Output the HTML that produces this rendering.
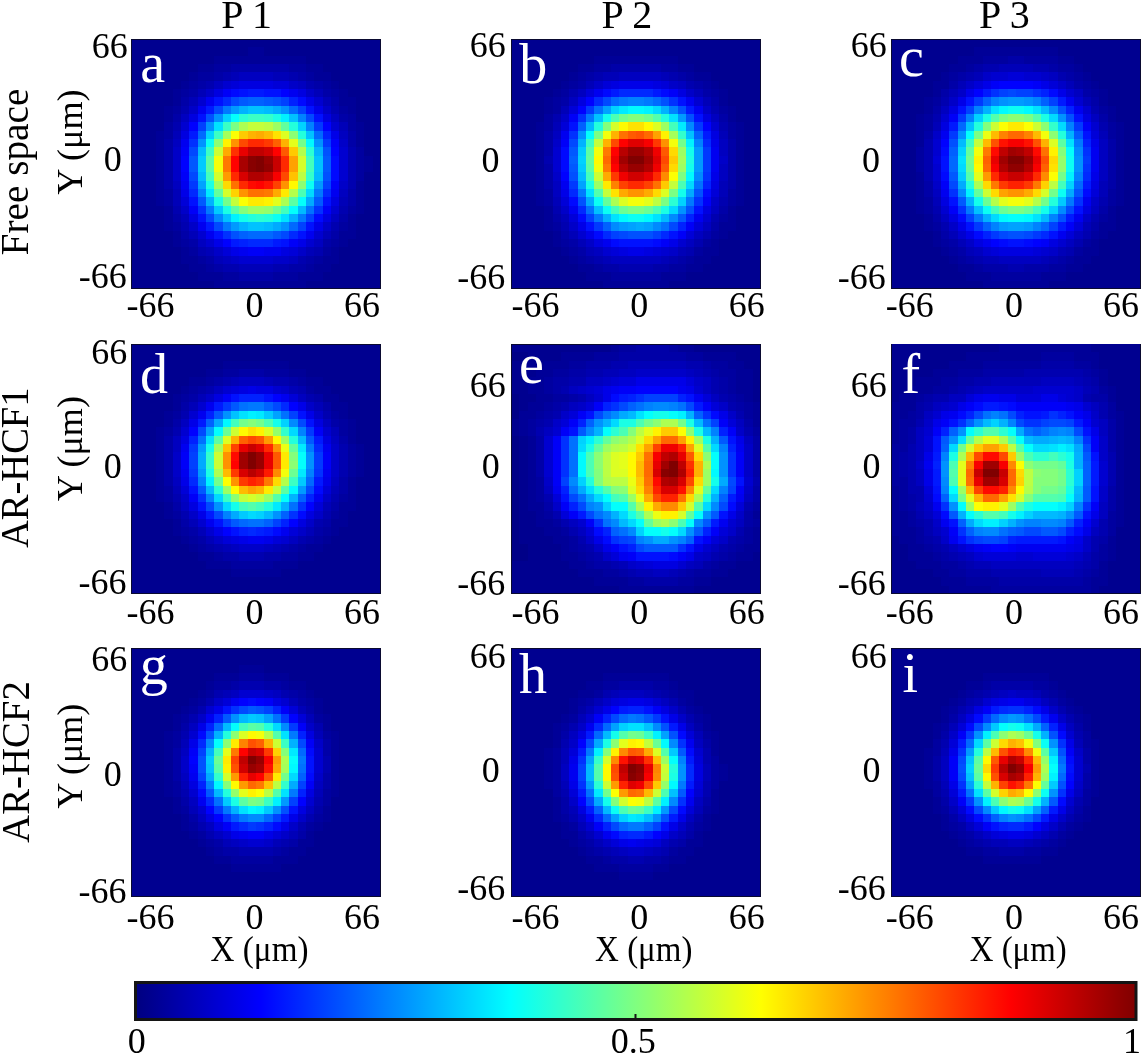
<!DOCTYPE html>
<html><head><meta charset="utf-8"><title>Beam profiles</title>
<style>html,body{margin:0;padding:0;background:#fff;width:1143px;height:1055px;overflow:hidden}svg{display:block}text{font-family:"Liberation Serif","Times New Roman",serif}</style>
</head><body>
<svg width="1143" height="1055" viewBox="0 0 1143 1055">
<rect width="1143" height="1055" fill="#fff"/>
<g transform="translate(131 39) scale(8.33333 8.33333)" shape-rendering="crispEdges"><path fill="#000090" d="M0 0h30v1h-30zM0 1h14v1h-14zM16 1h14v1h-14zM0 2h10v1h-10zM21 2h9v1h-9zM0 3h8v1h-8zM23 3h7v1h-7zM0 4h7v1h-7zM24 4h6v1h-6zM0 5h6v1h-6zM25 5h5v1h-5zM0 6h5v1h-5zM26 6h4v1h-4zM0 7h5v1h-5zM27 7h3v1h-3zM0 8h4v1h-4zM27 8h3v1h-3zM0 9h4v1h-4zM27 9h3v1h-3zM0 10h4v1h-4zM28 10h2v1h-2zM0 11h3v1h-3zM28 11h2v1h-2zM0 12h3v1h-3zM28 12h2v1h-2zM0 13h3v1h-3zM28 13h2v1h-2zM0 14h3v1h-3zM29 14h1v1h-1zM0 15h3v1h-3zM29 15h1v1h-1zM0 16h3v1h-3zM28 16h2v1h-2zM0 17h3v1h-3zM28 17h2v1h-2zM0 18h3v1h-3zM28 18h2v1h-2zM0 19h3v1h-3zM28 19h2v1h-2zM0 20h4v1h-4zM28 20h2v1h-2zM0 21h4v1h-4zM27 21h3v1h-3zM0 22h4v1h-4zM27 22h3v1h-3zM0 23h5v1h-5zM27 23h3v1h-3zM0 24h5v1h-5zM26 24h4v1h-4zM0 25h6v1h-6zM25 25h5v1h-5zM0 26h6v1h-6zM25 26h5v1h-5zM0 27h7v1h-7zM24 27h6v1h-6zM0 28h8v1h-8zM23 28h7v1h-7zM0 29h10v1h-10zM21 29h9v1h-9z"/><path fill="#000098" d="M14 1h2v1h-2zM10 2h11v1h-11zM8 3h2v1h-2zM21 3h2v1h-2zM7 4h1v1h-1zM22 4h2v1h-2zM6 5h1v1h-1zM24 5h1v1h-1zM5 6h1v1h-1zM25 6h1v1h-1zM5 7h1v1h-1zM25 7h2v1h-2zM4 8h1v1h-1zM26 8h1v1h-1zM4 9h1v1h-1zM27 10h1v1h-1zM3 11h1v1h-1zM27 11h1v1h-1zM3 12h1v1h-1zM27 12h1v1h-1zM3 13h1v1h-1zM3 14h1v1h-1zM28 14h1v1h-1zM3 15h1v1h-1zM28 15h1v1h-1zM3 16h1v1h-1zM3 17h1v1h-1zM27 17h1v1h-1zM3 18h1v1h-1zM27 18h1v1h-1zM3 19h1v1h-1zM27 19h1v1h-1zM4 20h1v1h-1zM27 20h1v1h-1zM4 21h1v1h-1zM26 21h1v1h-1zM4 22h1v1h-1zM26 22h1v1h-1zM5 23h1v1h-1zM25 23h2v1h-2zM5 24h1v1h-1zM25 24h1v1h-1zM6 25h1v1h-1zM24 25h1v1h-1zM6 26h2v1h-2zM23 26h2v1h-2zM7 27h2v1h-2zM22 27h2v1h-2zM8 28h3v1h-3zM20 28h3v1h-3zM10 29h11v1h-11z"/><path fill="#0000a0" d="M10 3h2v1h-2zM19 3h2v1h-2zM8 4h2v1h-2zM21 4h1v1h-1zM7 5h1v1h-1zM23 5h1v1h-1zM6 6h1v1h-1zM24 6h1v1h-1zM5 8h1v1h-1zM25 8h1v1h-1zM26 9h1v1h-1zM4 10h1v1h-1zM26 10h1v1h-1zM4 11h1v1h-1zM27 13h1v1h-1zM27 14h1v1h-1zM27 15h1v1h-1zM27 16h1v1h-1zM4 18h1v1h-1zM4 19h1v1h-1zM26 20h1v1h-1zM5 22h1v1h-1zM25 22h1v1h-1zM6 24h1v1h-1zM24 24h1v1h-1zM7 25h1v1h-1zM23 25h1v1h-1zM8 26h1v1h-1zM22 26h1v1h-1zM9 27h1v1h-1zM21 27h1v1h-1zM11 28h2v1h-2zM17 28h3v1h-3z"/><path fill="#0000a8" d="M12 3h7v1h-7zM10 4h1v1h-1zM20 4h1v1h-1zM8 5h1v1h-1zM22 5h1v1h-1zM7 6h1v1h-1zM23 6h1v1h-1zM6 7h1v1h-1zM24 7h1v1h-1zM5 9h1v1h-1zM25 9h1v1h-1zM26 11h1v1h-1zM4 12h1v1h-1zM26 12h1v1h-1zM4 13h1v1h-1zM4 14h1v1h-1zM4 15h1v1h-1zM4 16h1v1h-1zM4 17h1v1h-1zM26 18h1v1h-1zM26 19h1v1h-1zM5 21h1v1h-1zM25 21h1v1h-1zM6 23h1v1h-1zM24 23h1v1h-1zM7 24h1v1h-1zM23 24h1v1h-1zM9 26h1v1h-1zM21 26h1v1h-1zM10 27h1v1h-1zM19 27h2v1h-2zM13 28h4v1h-4z"/><path fill="#0000b0" d="M11 4h1v1h-1zM19 4h1v1h-1zM9 5h1v1h-1zM21 5h1v1h-1zM6 8h1v1h-1zM24 8h1v1h-1zM5 10h1v1h-1zM26 13h1v1h-1zM26 14h1v1h-1zM26 15h1v1h-1zM26 16h1v1h-1zM26 17h1v1h-1zM5 20h1v1h-1zM25 20h1v1h-1zM6 22h1v1h-1zM24 22h1v1h-1zM8 25h1v1h-1zM22 25h1v1h-1zM20 26h1v1h-1zM11 27h2v1h-2zM17 27h2v1h-2z"/><path fill="#0000b8" d="M12 4h1v1h-1zM17 4h2v1h-2zM8 6h1v1h-1zM22 6h1v1h-1zM7 7h1v1h-1zM23 7h1v1h-1zM25 10h1v1h-1zM5 11h1v1h-1zM5 18h1v1h-1zM5 19h1v1h-1zM25 19h1v1h-1zM6 21h1v1h-1zM7 23h1v1h-1zM23 23h1v1h-1zM9 25h1v1h-1zM21 25h1v1h-1zM10 26h1v1h-1zM13 27h4v1h-4z"/><path fill="#0000c0" d="M13 4h4v1h-4zM10 5h1v1h-1zM20 5h1v1h-1zM6 9h1v1h-1zM24 9h1v1h-1zM25 11h1v1h-1zM5 12h1v1h-1zM5 17h1v1h-1zM25 18h1v1h-1zM24 21h1v1h-1zM8 24h1v1h-1zM22 24h1v1h-1zM11 26h1v1h-1zM19 26h1v1h-1z"/><path fill="#0000c8" d="M19 5h1v1h-1zM9 6h1v1h-1zM21 6h1v1h-1zM7 8h1v1h-1zM23 8h1v1h-1zM25 12h1v1h-1zM5 13h1v1h-1zM5 14h1v1h-1zM5 15h1v1h-1zM5 16h1v1h-1zM25 17h1v1h-1zM6 20h1v1h-1zM7 22h1v1h-1zM23 22h1v1h-1zM10 25h1v1h-1zM20 25h1v1h-1zM12 26h1v1h-1zM17 26h2v1h-2z"/><path fill="#0000d0" d="M11 5h1v1h-1zM8 7h1v1h-1zM22 7h1v1h-1zM6 10h1v1h-1zM24 10h1v1h-1zM25 13h1v1h-1zM25 14h1v1h-1zM25 15h1v1h-1zM25 16h1v1h-1zM24 20h1v1h-1zM8 23h1v1h-1zM22 23h1v1h-1zM9 24h1v1h-1zM21 24h1v1h-1zM13 26h4v1h-4z"/><path fill="#0000d8" d="M12 5h1v1h-1zM17 5h2v1h-2zM6 19h1v1h-1zM11 25h1v1h-1zM19 25h1v1h-1z"/><path fill="#0000e0" d="M13 5h4v1h-4zM10 6h1v1h-1zM20 6h1v1h-1zM7 9h1v1h-1zM23 9h1v1h-1zM6 11h1v1h-1zM24 19h1v1h-1zM7 21h1v1h-1zM23 21h1v1h-1zM18 25h1v1h-1z"/><path fill="#0000e8" d="M21 7h1v1h-1zM22 8h1v1h-1zM24 11h1v1h-1zM6 18h1v1h-1zM22 22h1v1h-1zM10 24h1v1h-1zM20 24h1v1h-1zM12 25h1v1h-1z"/><path fill="#0000f0" d="M19 6h1v1h-1zM9 7h1v1h-1zM8 8h1v1h-1zM6 12h1v1h-1zM6 17h1v1h-1zM24 18h1v1h-1zM8 22h1v1h-1zM9 23h1v1h-1zM21 23h1v1h-1zM13 25h1v1h-1zM16 25h2v1h-2z"/><path fill="#0000f8" d="M11 6h1v1h-1zM24 12h1v1h-1zM6 13h1v1h-1zM6 16h1v1h-1zM24 17h1v1h-1zM7 20h1v1h-1zM23 20h1v1h-1zM19 24h1v1h-1zM14 25h2v1h-2z"/><path fill="#0001ff" d="M18 6h1v1h-1zM7 10h1v1h-1zM23 10h1v1h-1zM24 13h1v1h-1zM6 14h1v1h-1zM6 15h1v1h-1zM11 24h1v1h-1z"/><path fill="#0009ff" d="M12 6h1v1h-1zM20 7h1v1h-1zM24 14h1v1h-1zM24 15h1v1h-1zM24 16h1v1h-1zM22 21h1v1h-1z"/><path fill="#0011ff" d="M13 6h1v1h-1zM16 6h2v1h-2zM10 7h1v1h-1zM21 8h1v1h-1zM8 9h1v1h-1zM22 9h1v1h-1zM7 19h1v1h-1zM23 19h1v1h-1zM8 21h1v1h-1zM21 22h1v1h-1zM10 23h1v1h-1zM20 23h1v1h-1zM18 24h1v1h-1z"/><path fill="#0019ff" d="M14 6h2v1h-2zM9 8h1v1h-1zM7 11h1v1h-1zM9 22h1v1h-1zM12 24h1v1h-1zM17 24h1v1h-1z"/><path fill="#0021ff" d="M19 7h1v1h-1zM23 11h1v1h-1zM13 24h1v1h-1z"/><path fill="#0029ff" d="M11 7h1v1h-1zM7 18h1v1h-1zM23 18h1v1h-1zM19 23h1v1h-1zM14 24h3v1h-3z"/><path fill="#0031ff" d="M7 12h1v1h-1zM8 20h1v1h-1zM22 20h1v1h-1zM11 23h1v1h-1z"/><path fill="#0039ff" d="M22 10h1v1h-1zM23 12h1v1h-1zM7 17h1v1h-1z"/><path fill="#0041ff" d="M18 7h1v1h-1zM20 8h1v1h-1zM8 10h1v1h-1zM23 17h1v1h-1zM21 21h1v1h-1zM20 22h1v1h-1z"/><path fill="#0049ff" d="M12 7h1v1h-1zM10 8h1v1h-1zM21 9h1v1h-1zM7 13h1v1h-1zM7 16h1v1h-1zM9 21h1v1h-1zM10 22h1v1h-1zM18 23h1v1h-1z"/><path fill="#0051ff" d="M17 7h1v1h-1zM9 9h1v1h-1zM23 13h1v1h-1zM23 16h1v1h-1zM12 23h1v1h-1z"/><path fill="#0059ff" d="M13 7h1v1h-1zM16 7h1v1h-1zM7 14h1v1h-1zM23 14h1v1h-1zM7 15h1v1h-1zM23 15h1v1h-1zM8 19h1v1h-1zM22 19h1v1h-1zM17 23h1v1h-1z"/><path fill="#0061ff" d="M14 7h2v1h-2zM13 23h1v1h-1z"/><path fill="#0069ff" d="M19 8h1v1h-1zM8 11h1v1h-1zM22 11h1v1h-1zM19 22h1v1h-1zM14 23h3v1h-3z"/><path fill="#0071ff" d="M21 20h1v1h-1z"/><path fill="#0079ff" d="M11 8h1v1h-1zM22 18h1v1h-1zM9 20h1v1h-1zM20 21h1v1h-1zM11 22h1v1h-1z"/><path fill="#0082ff" d="M20 9h1v1h-1zM21 10h1v1h-1zM8 18h1v1h-1z"/><path fill="#008aff" d="M10 21h1v1h-1z"/><path fill="#0092ff" d="M18 8h1v1h-1zM10 9h1v1h-1zM9 10h1v1h-1zM8 12h1v1h-1zM22 12h1v1h-1zM18 22h1v1h-1z"/><path fill="#009aff" d="M12 8h1v1h-1zM22 17h1v1h-1zM12 22h1v1h-1z"/><path fill="#00a2ff" d="M8 17h1v1h-1z"/><path fill="#00aaff" d="M17 8h1v1h-1zM21 19h1v1h-1zM17 22h1v1h-1z"/><path fill="#00b2ff" d="M13 8h1v1h-1zM22 13h1v1h-1zM9 19h1v1h-1zM19 21h1v1h-1zM13 22h1v1h-1z"/><path fill="#00baff" d="M16 8h1v1h-1zM8 13h1v1h-1zM8 16h1v1h-1zM22 16h1v1h-1zM20 20h1v1h-1zM16 22h1v1h-1z"/><path fill="#00c2ff" d="M14 8h2v1h-2zM19 9h1v1h-1zM21 11h1v1h-1zM22 14h1v1h-1zM22 15h1v1h-1zM11 21h1v1h-1zM14 22h2v1h-2z"/><path fill="#00caff" d="M8 14h1v1h-1zM8 15h1v1h-1zM10 20h1v1h-1z"/><path fill="#00d2ff" d="M11 9h1v1h-1zM20 10h1v1h-1zM9 11h1v1h-1z"/><path fill="#00daff" d="M21 18h1v1h-1z"/><path fill="#00e2ff" d="M10 10h1v1h-1zM18 21h1v1h-1z"/><path fill="#00eaff" d="M9 18h1v1h-1z"/><path fill="#00f2ff" d="M18 9h1v1h-1zM12 21h1v1h-1z"/><path fill="#00faff" d="M21 12h1v1h-1z"/><path fill="#03fffc" d="M12 9h1v1h-1zM20 19h1v1h-1zM19 20h1v1h-1z"/><path fill="#0bfff4" d="M9 12h1v1h-1zM21 17h1v1h-1zM17 21h1v1h-1z"/><path fill="#13ffec" d="M13 21h1v1h-1z"/><path fill="#1bffe4" d="M17 9h1v1h-1zM9 17h1v1h-1zM10 19h1v1h-1zM11 20h1v1h-1z"/><path fill="#23ffdc" d="M19 10h1v1h-1zM20 11h1v1h-1zM14 21h1v1h-1zM16 21h1v1h-1z"/><path fill="#2bffd4" d="M13 9h1v1h-1zM21 13h1v1h-1zM15 21h1v1h-1z"/><path fill="#33ffcc" d="M16 9h1v1h-1zM21 16h1v1h-1z"/><path fill="#3bffc4" d="M14 9h2v1h-2zM11 10h1v1h-1zM10 11h1v1h-1zM9 13h1v1h-1z"/><path fill="#43ffbc" d="M21 14h1v1h-1zM21 15h1v1h-1zM9 16h1v1h-1zM18 20h1v1h-1z"/><path fill="#4bffb4" d="M20 18h1v1h-1z"/><path fill="#5bffa4" d="M9 14h1v1h-1zM9 15h1v1h-1zM19 19h1v1h-1zM12 20h1v1h-1z"/><path fill="#63ff9c" d="M18 10h1v1h-1zM10 18h1v1h-1z"/><path fill="#73ff8c" d="M20 12h1v1h-1zM11 19h1v1h-1zM17 20h1v1h-1z"/><path fill="#7bff84" d="M12 10h1v1h-1z"/><path fill="#84ff7b" d="M13 20h1v1h-1z"/><path fill="#8cff73" d="M19 11h1v1h-1zM10 12h1v1h-1zM20 17h1v1h-1z"/><path fill="#94ff6b" d="M16 20h1v1h-1z"/><path fill="#9cff63" d="M17 10h1v1h-1zM14 20h2v1h-2z"/><path fill="#a4ff5b" d="M11 11h1v1h-1zM10 17h1v1h-1z"/><path fill="#acff53" d="M13 10h1v1h-1zM18 19h1v1h-1z"/><path fill="#b4ff4b" d="M20 13h1v1h-1zM19 18h1v1h-1z"/><path fill="#bcff43" d="M16 10h1v1h-1zM20 16h1v1h-1z"/><path fill="#c4ff3b" d="M14 10h2v1h-2zM12 19h1v1h-1z"/><path fill="#ccff33" d="M10 13h1v1h-1z"/><path fill="#d4ff2b" d="M20 14h1v1h-1zM20 15h1v1h-1zM10 16h1v1h-1zM11 18h1v1h-1z"/><path fill="#dcff23" d="M18 11h1v1h-1z"/><path fill="#e4ff1b" d="M19 12h1v1h-1zM17 19h1v1h-1z"/><path fill="#f4ff0b" d="M10 14h1v1h-1zM10 15h1v1h-1z"/><path fill="#fcff03" d="M12 11h1v1h-1zM13 19h1v1h-1z"/><path fill="#fffa00" d="M19 17h1v1h-1z"/><path fill="#fff200" d="M11 12h1v1h-1zM16 19h1v1h-1z"/><path fill="#ffea00" d="M18 18h1v1h-1zM14 19h2v1h-2z"/><path fill="#ffe200" d="M17 11h1v1h-1z"/><path fill="#ffda00" d="M11 17h1v1h-1z"/><path fill="#ffd200" d="M12 18h1v1h-1z"/><path fill="#ffca00" d="M13 11h1v1h-1zM19 13h1v1h-1z"/><path fill="#ffc200" d="M19 16h1v1h-1z"/><path fill="#ffba00" d="M16 11h1v1h-1z"/><path fill="#ffb200" d="M14 11h1v1h-1zM18 12h1v1h-1z"/><path fill="#ffaa00" d="M15 11h1v1h-1zM11 13h1v1h-1zM17 18h1v1h-1z"/><path fill="#ffa200" d="M19 14h1v1h-1zM19 15h1v1h-1z"/><path fill="#ff9a00" d="M11 16h1v1h-1z"/><path fill="#ff9200" d="M12 12h1v1h-1zM18 17h1v1h-1zM13 18h1v1h-1z"/><path fill="#ff7900" d="M11 14h1v1h-1zM11 15h1v1h-1zM16 18h1v1h-1z"/><path fill="#ff7100" d="M12 17h1v1h-1zM14 18h2v1h-2z"/><path fill="#ff6100" d="M17 12h1v1h-1z"/><path fill="#ff5900" d="M18 13h1v1h-1z"/><path fill="#ff4900" d="M13 12h1v1h-1zM18 16h1v1h-1z"/><path fill="#ff4100" d="M17 17h1v1h-1z"/><path fill="#ff3900" d="M16 12h1v1h-1z"/><path fill="#ff3100" d="M12 13h1v1h-1z"/><path fill="#ff2900" d="M14 12h2v1h-2zM18 14h1v1h-1zM18 15h1v1h-1zM12 16h1v1h-1zM13 17h1v1h-1z"/><path fill="#ff1100" d="M16 17h1v1h-1z"/><path fill="#ff0900" d="M14 17h1v1h-1z"/><path fill="#ff0100" d="M17 13h1v1h-1zM12 14h1v1h-1zM12 15h1v1h-1zM15 17h1v1h-1z"/><path fill="#f80000" d="M17 16h1v1h-1z"/><path fill="#e80000" d="M13 13h1v1h-1z"/><path fill="#d80000" d="M13 16h1v1h-1z"/><path fill="#d00000" d="M16 13h1v1h-1z"/><path fill="#c80000" d="M17 14h1v1h-1zM17 15h1v1h-1z"/><path fill="#c00000" d="M14 13h2v1h-2zM16 16h1v1h-1z"/><path fill="#b00000" d="M14 16h2v1h-2z"/><path fill="#a80000" d="M13 14h1v1h-1zM13 15h1v1h-1z"/><path fill="#980000" d="M16 14h1v1h-1z"/><path fill="#900000" d="M16 15h1v1h-1z"/><path fill="#880000" d="M14 14h1v1h-1zM14 15h1v1h-1z"/><path fill="#800000" d="M15 14h1v1h-1zM15 15h1v1h-1z"/></g>
<rect x="131.5" y="39.5" width="249" height="249" fill="none" stroke="#0a0a30" stroke-width="1"/>
<g transform="translate(511 39) scale(8.33333 8.33333)" shape-rendering="crispEdges"><path fill="#000090" d="M0 0h30v1h-30zM0 1h30v1h-30zM0 2h10v1h-10zM20 2h10v1h-10zM0 3h8v1h-8zM22 3h8v1h-8zM0 4h7v1h-7zM24 4h6v1h-6zM0 5h6v1h-6zM25 5h5v1h-5zM0 6h5v1h-5zM26 6h4v1h-4zM0 7h4v1h-4zM26 7h4v1h-4zM0 8h4v1h-4zM27 8h3v1h-3zM0 9h4v1h-4zM27 9h3v1h-3zM0 10h3v1h-3zM28 10h2v1h-2zM0 11h3v1h-3zM28 11h2v1h-2zM0 12h3v1h-3zM28 12h2v1h-2zM0 13h3v1h-3zM28 13h2v1h-2zM0 14h3v1h-3zM28 14h2v1h-2zM0 15h3v1h-3zM28 15h2v1h-2zM0 16h3v1h-3zM28 16h2v1h-2zM0 17h3v1h-3zM28 17h2v1h-2zM0 18h3v1h-3zM28 18h2v1h-2zM0 19h3v1h-3zM28 19h2v1h-2zM0 20h4v1h-4zM27 20h3v1h-3zM0 21h4v1h-4zM27 21h3v1h-3zM0 22h4v1h-4zM27 22h3v1h-3zM0 23h5v1h-5zM26 23h4v1h-4zM0 24h5v1h-5zM25 24h5v1h-5zM0 25h6v1h-6zM25 25h5v1h-5zM0 26h7v1h-7zM24 26h6v1h-6zM0 27h8v1h-8zM23 27h7v1h-7zM0 28h9v1h-9zM21 28h9v1h-9zM0 29h11v1h-11zM19 29h11v1h-11z"/><path fill="#000098" d="M10 2h10v1h-10zM8 3h2v1h-2zM20 3h2v1h-2zM7 4h1v1h-1zM22 4h2v1h-2zM6 5h1v1h-1zM24 5h1v1h-1zM5 6h1v1h-1zM25 6h1v1h-1zM4 7h1v1h-1zM25 7h1v1h-1zM4 8h1v1h-1zM26 8h1v1h-1zM26 9h1v1h-1zM3 10h1v1h-1zM27 10h1v1h-1zM3 11h1v1h-1zM27 11h1v1h-1zM3 12h1v1h-1zM27 12h1v1h-1zM3 13h1v1h-1zM27 13h1v1h-1zM3 14h1v1h-1zM27 14h1v1h-1zM3 15h1v1h-1zM27 15h1v1h-1zM3 16h1v1h-1zM27 16h1v1h-1zM3 17h1v1h-1zM27 17h1v1h-1zM3 18h1v1h-1zM27 18h1v1h-1zM3 19h1v1h-1zM27 19h1v1h-1zM4 20h1v1h-1zM26 20h1v1h-1zM4 21h1v1h-1zM26 21h1v1h-1zM4 22h1v1h-1zM25 22h2v1h-2zM5 23h1v1h-1zM25 23h1v1h-1zM5 24h1v1h-1zM24 24h1v1h-1zM6 25h1v1h-1zM23 25h2v1h-2zM7 26h1v1h-1zM22 26h2v1h-2zM8 27h2v1h-2zM21 27h2v1h-2zM9 28h3v1h-3zM18 28h3v1h-3zM11 29h8v1h-8z"/><path fill="#0000a0" d="M10 3h2v1h-2zM18 3h2v1h-2zM8 4h1v1h-1zM21 4h1v1h-1zM7 5h1v1h-1zM23 5h1v1h-1zM6 6h1v1h-1zM24 6h1v1h-1zM5 7h1v1h-1zM5 8h1v1h-1zM25 8h1v1h-1zM4 9h1v1h-1zM4 10h1v1h-1zM26 10h1v1h-1zM26 11h1v1h-1zM4 18h1v1h-1zM26 18h1v1h-1zM4 19h1v1h-1zM26 19h1v1h-1zM25 21h1v1h-1zM5 22h1v1h-1zM24 23h1v1h-1zM6 24h1v1h-1zM23 24h1v1h-1zM7 25h1v1h-1zM22 25h1v1h-1zM8 26h1v1h-1zM21 26h1v1h-1zM10 27h1v1h-1zM19 27h2v1h-2zM12 28h6v1h-6z"/><path fill="#0000a8" d="M12 3h6v1h-6zM9 4h1v1h-1zM20 4h1v1h-1zM8 5h1v1h-1zM22 5h1v1h-1zM23 6h1v1h-1zM6 7h1v1h-1zM24 7h1v1h-1zM25 9h1v1h-1zM4 11h1v1h-1zM4 12h1v1h-1zM26 12h1v1h-1zM4 13h1v1h-1zM26 13h1v1h-1zM26 14h1v1h-1zM4 15h1v1h-1zM26 15h1v1h-1zM4 16h1v1h-1zM26 16h1v1h-1zM4 17h1v1h-1zM26 17h1v1h-1zM25 20h1v1h-1zM5 21h1v1h-1zM24 22h1v1h-1zM6 23h1v1h-1zM7 24h1v1h-1zM8 25h1v1h-1zM9 26h1v1h-1zM20 26h1v1h-1zM11 27h2v1h-2zM17 27h2v1h-2z"/><path fill="#0000b0" d="M10 4h1v1h-1zM19 4h1v1h-1zM21 5h1v1h-1zM7 6h1v1h-1zM24 8h1v1h-1zM5 9h1v1h-1zM25 10h1v1h-1zM4 14h1v1h-1zM25 19h1v1h-1zM5 20h1v1h-1zM24 21h1v1h-1zM6 22h1v1h-1zM23 23h1v1h-1zM22 24h1v1h-1zM21 25h1v1h-1zM10 26h1v1h-1zM19 26h1v1h-1zM13 27h4v1h-4z"/><path fill="#0000b8" d="M11 4h2v1h-2zM18 4h1v1h-1zM9 5h1v1h-1zM22 6h1v1h-1zM23 7h1v1h-1zM6 8h1v1h-1zM5 10h1v1h-1zM25 11h1v1h-1zM25 17h1v1h-1zM25 18h1v1h-1zM5 19h1v1h-1zM6 21h1v1h-1zM7 23h1v1h-1zM8 24h1v1h-1zM9 25h1v1h-1zM20 25h1v1h-1zM11 26h1v1h-1zM18 26h1v1h-1z"/><path fill="#0000c0" d="M13 4h5v1h-5zM20 5h1v1h-1zM8 6h1v1h-1zM7 7h1v1h-1zM24 9h1v1h-1zM5 11h1v1h-1zM25 12h1v1h-1zM25 13h1v1h-1zM25 15h1v1h-1zM25 16h1v1h-1zM5 17h1v1h-1zM5 18h1v1h-1zM24 20h1v1h-1zM23 22h1v1h-1zM22 23h1v1h-1zM21 24h1v1h-1zM10 25h1v1h-1zM12 26h6v1h-6z"/><path fill="#0000c8" d="M10 5h1v1h-1zM19 5h1v1h-1zM21 6h1v1h-1zM23 8h1v1h-1zM6 9h1v1h-1zM5 12h1v1h-1zM25 14h1v1h-1zM5 16h1v1h-1zM24 19h1v1h-1zM6 20h1v1h-1zM7 22h1v1h-1zM9 24h1v1h-1zM19 25h1v1h-1z"/><path fill="#0000d0" d="M22 7h1v1h-1zM24 10h1v1h-1zM5 13h1v1h-1zM5 14h1v1h-1zM5 15h1v1h-1zM23 21h1v1h-1zM8 23h1v1h-1zM20 24h1v1h-1zM11 25h1v1h-1zM18 25h1v1h-1z"/><path fill="#0000d8" d="M11 5h1v1h-1zM18 5h1v1h-1zM9 6h1v1h-1zM7 8h1v1h-1zM6 10h1v1h-1zM24 18h1v1h-1zM6 19h1v1h-1zM7 21h1v1h-1zM22 22h1v1h-1zM21 23h1v1h-1zM12 25h1v1h-1zM17 25h1v1h-1z"/><path fill="#0000e0" d="M12 5h1v1h-1zM17 5h1v1h-1zM20 6h1v1h-1zM8 7h1v1h-1zM23 9h1v1h-1zM24 11h1v1h-1zM24 17h1v1h-1zM23 20h1v1h-1zM10 24h1v1h-1zM13 25h1v1h-1zM16 25h1v1h-1z"/><path fill="#0000e8" d="M13 5h4v1h-4zM24 12h1v1h-1zM24 16h1v1h-1zM6 18h1v1h-1zM8 22h1v1h-1zM9 23h1v1h-1zM19 24h1v1h-1zM14 25h2v1h-2z"/><path fill="#0000f0" d="M10 6h1v1h-1zM21 7h1v1h-1zM22 8h1v1h-1zM6 11h1v1h-1zM24 13h1v1h-1zM24 14h1v1h-1zM24 15h1v1h-1zM6 17h1v1h-1zM7 20h1v1h-1zM22 21h1v1h-1zM11 24h1v1h-1z"/><path fill="#0000f8" d="M19 6h1v1h-1zM7 9h1v1h-1zM6 12h1v1h-1zM23 19h1v1h-1zM21 22h1v1h-1zM20 23h1v1h-1zM18 24h1v1h-1z"/><path fill="#0001ff" d="M9 7h1v1h-1zM8 8h1v1h-1zM23 10h1v1h-1zM6 16h1v1h-1z"/><path fill="#0009ff" d="M11 6h1v1h-1zM18 6h1v1h-1zM6 13h1v1h-1zM6 14h1v1h-1zM6 15h1v1h-1zM23 18h1v1h-1zM7 19h1v1h-1zM8 21h1v1h-1zM10 23h1v1h-1zM12 24h1v1h-1zM17 24h1v1h-1z"/><path fill="#0011ff" d="M20 7h1v1h-1zM22 9h1v1h-1zM7 10h1v1h-1zM22 20h1v1h-1zM9 22h1v1h-1zM19 23h1v1h-1zM13 24h4v1h-4z"/><path fill="#0019ff" d="M12 6h1v1h-1zM17 6h1v1h-1zM21 8h1v1h-1zM23 11h1v1h-1z"/><path fill="#0021ff" d="M23 17h1v1h-1zM21 21h1v1h-1zM20 22h1v1h-1z"/><path fill="#0029ff" d="M13 6h4v1h-4zM10 7h1v1h-1zM23 12h1v1h-1zM7 18h1v1h-1zM8 20h1v1h-1zM11 23h1v1h-1zM18 23h1v1h-1z"/><path fill="#0031ff" d="M19 7h1v1h-1zM8 9h1v1h-1zM7 11h1v1h-1zM23 16h1v1h-1zM22 19h1v1h-1z"/><path fill="#0039ff" d="M9 8h1v1h-1zM22 10h1v1h-1zM23 13h1v1h-1zM23 14h1v1h-1zM23 15h1v1h-1zM7 17h1v1h-1zM10 22h1v1h-1z"/><path fill="#0041ff" d="M9 21h1v1h-1zM12 23h1v1h-1zM17 23h1v1h-1z"/><path fill="#0049ff" d="M11 7h1v1h-1zM7 12h1v1h-1zM19 22h1v1h-1zM13 23h1v1h-1z"/><path fill="#0051ff" d="M18 7h1v1h-1zM20 8h1v1h-1zM21 9h1v1h-1zM7 16h1v1h-1zM22 18h1v1h-1zM8 19h1v1h-1zM21 20h1v1h-1zM14 23h3v1h-3z"/><path fill="#0059ff" d="M7 13h1v1h-1zM7 15h1v1h-1zM20 21h1v1h-1z"/><path fill="#0061ff" d="M8 10h1v1h-1zM22 11h1v1h-1zM7 14h1v1h-1zM11 22h1v1h-1z"/><path fill="#0069ff" d="M12 7h1v1h-1zM17 7h1v1h-1z"/><path fill="#0071ff" d="M10 8h1v1h-1zM22 17h1v1h-1zM9 20h1v1h-1zM18 22h1v1h-1z"/><path fill="#0079ff" d="M13 7h1v1h-1zM16 7h1v1h-1zM9 9h1v1h-1zM8 18h1v1h-1zM21 19h1v1h-1zM10 21h1v1h-1z"/><path fill="#0082ff" d="M14 7h2v1h-2zM19 8h1v1h-1zM22 12h1v1h-1z"/><path fill="#008aff" d="M21 10h1v1h-1zM22 16h1v1h-1zM19 21h1v1h-1zM12 22h1v1h-1zM17 22h1v1h-1z"/><path fill="#0092ff" d="M8 11h1v1h-1zM20 20h1v1h-1z"/><path fill="#009aff" d="M20 9h1v1h-1zM22 13h1v1h-1zM22 14h1v1h-1zM22 15h1v1h-1zM13 22h1v1h-1z"/><path fill="#00a2ff" d="M11 8h1v1h-1zM8 17h1v1h-1zM14 22h1v1h-1zM16 22h1v1h-1z"/><path fill="#00aaff" d="M21 18h1v1h-1zM9 19h1v1h-1zM15 22h1v1h-1z"/><path fill="#00b2ff" d="M18 8h1v1h-1zM8 12h1v1h-1zM11 21h1v1h-1z"/><path fill="#00baff" d="M9 10h1v1h-1zM8 16h1v1h-1zM18 21h1v1h-1z"/><path fill="#00c2ff" d="M10 9h1v1h-1zM21 11h1v1h-1zM10 20h1v1h-1z"/><path fill="#00caff" d="M8 13h1v1h-1zM8 15h1v1h-1z"/><path fill="#00d2ff" d="M12 8h1v1h-1zM8 14h1v1h-1zM20 19h1v1h-1z"/><path fill="#00daff" d="M17 8h1v1h-1zM21 17h1v1h-1zM19 20h1v1h-1z"/><path fill="#00e2ff" d="M19 9h1v1h-1zM9 18h1v1h-1zM12 21h1v1h-1zM17 21h1v1h-1z"/><path fill="#00eaff" d="M13 8h1v1h-1zM20 10h1v1h-1z"/><path fill="#00f2ff" d="M16 8h1v1h-1zM21 12h1v1h-1z"/><path fill="#00faff" d="M14 8h2v1h-2zM21 16h1v1h-1zM13 21h1v1h-1zM16 21h1v1h-1z"/><path fill="#03fffc" d="M9 11h1v1h-1z"/><path fill="#0bfff4" d="M10 19h1v1h-1zM11 20h1v1h-1zM14 21h2v1h-2z"/><path fill="#13ffec" d="M11 9h1v1h-1zM21 13h1v1h-1zM21 15h1v1h-1zM20 18h1v1h-1z"/><path fill="#1bffe4" d="M21 14h1v1h-1zM9 17h1v1h-1zM18 20h1v1h-1z"/><path fill="#23ffdc" d="M18 9h1v1h-1zM10 10h1v1h-1z"/><path fill="#2bffd4" d="M19 19h1v1h-1z"/><path fill="#33ffcc" d="M20 11h1v1h-1z"/><path fill="#3bffc4" d="M9 12h1v1h-1z"/><path fill="#43ffbc" d="M19 10h1v1h-1zM9 16h1v1h-1zM12 20h1v1h-1z"/><path fill="#4bffb4" d="M12 9h1v1h-1zM20 17h1v1h-1zM17 20h1v1h-1z"/><path fill="#53ffac" d="M17 9h1v1h-1zM10 18h1v1h-1z"/><path fill="#5bffa4" d="M9 13h1v1h-1zM9 15h1v1h-1z"/><path fill="#63ff9c" d="M9 14h1v1h-1zM11 19h1v1h-1z"/><path fill="#6bff94" d="M13 20h1v1h-1zM16 20h1v1h-1z"/><path fill="#73ff8c" d="M13 9h1v1h-1zM16 9h1v1h-1zM20 12h1v1h-1z"/><path fill="#7bff84" d="M10 11h1v1h-1zM20 16h1v1h-1zM19 18h1v1h-1zM18 19h1v1h-1zM14 20h2v1h-2z"/><path fill="#84ff7b" d="M14 9h2v1h-2zM11 10h1v1h-1z"/><path fill="#9cff63" d="M18 10h1v1h-1zM20 13h1v1h-1zM20 15h1v1h-1zM10 17h1v1h-1z"/><path fill="#a4ff5b" d="M19 11h1v1h-1zM20 14h1v1h-1z"/><path fill="#acff53" d="M12 19h1v1h-1z"/><path fill="#bcff43" d="M17 19h1v1h-1z"/><path fill="#c4ff3b" d="M10 12h1v1h-1zM19 17h1v1h-1zM11 18h1v1h-1z"/><path fill="#ccff33" d="M10 16h1v1h-1z"/><path fill="#d4ff2b" d="M12 10h1v1h-1z"/><path fill="#dcff23" d="M17 10h1v1h-1zM18 18h1v1h-1zM13 19h1v1h-1z"/><path fill="#e4ff1b" d="M16 19h1v1h-1z"/><path fill="#f4ff0b" d="M11 11h1v1h-1zM19 12h1v1h-1zM10 13h1v1h-1zM10 15h1v1h-1zM14 19h2v1h-2z"/><path fill="#fcff03" d="M19 16h1v1h-1z"/><path fill="#fffa00" d="M13 10h1v1h-1zM16 10h1v1h-1zM10 14h1v1h-1z"/><path fill="#fff200" d="M18 11h1v1h-1z"/><path fill="#ffea00" d="M11 17h1v1h-1z"/><path fill="#ffe200" d="M14 10h2v1h-2zM12 18h1v1h-1z"/><path fill="#ffda00" d="M19 13h1v1h-1zM19 15h1v1h-1zM17 18h1v1h-1z"/><path fill="#ffca00" d="M19 14h1v1h-1zM18 17h1v1h-1z"/><path fill="#ffb200" d="M12 11h1v1h-1zM11 12h1v1h-1z"/><path fill="#ffaa00" d="M11 16h1v1h-1zM13 18h1v1h-1zM16 18h1v1h-1z"/><path fill="#ffa200" d="M17 11h1v1h-1z"/><path fill="#ff9200" d="M18 12h1v1h-1zM14 18h2v1h-2z"/><path fill="#ff8a00" d="M18 16h1v1h-1z"/><path fill="#ff8200" d="M12 17h1v1h-1z"/><path fill="#ff7900" d="M11 13h1v1h-1zM11 15h1v1h-1z"/><path fill="#ff7100" d="M13 11h1v1h-1zM17 17h1v1h-1z"/><path fill="#ff6900" d="M16 11h1v1h-1zM11 14h1v1h-1z"/><path fill="#ff5900" d="M14 11h1v1h-1zM18 13h1v1h-1zM18 15h1v1h-1z"/><path fill="#ff5100" d="M15 11h1v1h-1z"/><path fill="#ff4900" d="M12 12h1v1h-1zM18 14h1v1h-1z"/><path fill="#ff4100" d="M13 17h1v1h-1zM16 17h1v1h-1z"/><path fill="#ff3900" d="M17 12h1v1h-1zM12 16h1v1h-1z"/><path fill="#ff2900" d="M17 16h1v1h-1zM14 17h2v1h-2z"/><path fill="#ff0100" d="M13 12h1v1h-1zM12 13h1v1h-1zM12 15h1v1h-1z"/><path fill="#f80000" d="M16 12h1v1h-1z"/><path fill="#f00000" d="M17 13h1v1h-1zM12 14h1v1h-1zM17 15h1v1h-1zM13 16h1v1h-1z"/><path fill="#e80000" d="M16 16h1v1h-1z"/><path fill="#e00000" d="M14 12h2v1h-2zM17 14h1v1h-1z"/><path fill="#d00000" d="M14 16h2v1h-2z"/><path fill="#b80000" d="M13 13h1v1h-1zM13 15h1v1h-1z"/><path fill="#b00000" d="M16 13h1v1h-1zM16 15h1v1h-1z"/><path fill="#a00000" d="M13 14h1v1h-1zM16 14h1v1h-1z"/><path fill="#980000" d="M14 13h2v1h-2zM14 15h2v1h-2z"/><path fill="#800000" d="M14 14h2v1h-2z"/></g>
<rect x="511.5" y="39.5" width="249" height="249" fill="none" stroke="#0a0a30" stroke-width="1"/>
<g transform="translate(891 39) scale(8.33333 8.33333)" shape-rendering="crispEdges"><path fill="#000090" d="M0 0h30v1h-30zM0 1h10v1h-10zM20 1h10v1h-10zM0 2h8v1h-8zM22 2h8v1h-8zM0 3h7v1h-7zM23 3h7v1h-7zM0 4h6v1h-6zM24 4h6v1h-6zM0 5h5v1h-5zM25 5h5v1h-5zM0 6h5v1h-5zM26 6h4v1h-4zM0 7h4v1h-4zM26 7h4v1h-4zM0 8h4v1h-4zM27 8h3v1h-3zM0 9h3v1h-3zM27 9h3v1h-3zM0 10h3v1h-3zM28 10h2v1h-2zM0 11h3v1h-3zM28 11h2v1h-2zM0 12h3v1h-3zM28 12h2v1h-2zM0 13h3v1h-3zM28 13h2v1h-2zM0 14h3v1h-3zM28 14h2v1h-2zM0 15h3v1h-3zM28 15h2v1h-2zM0 16h3v1h-3zM28 16h2v1h-2zM0 17h3v1h-3zM28 17h2v1h-2zM0 18h3v1h-3zM28 18h2v1h-2zM0 19h3v1h-3zM28 19h2v1h-2zM0 20h3v1h-3zM27 20h3v1h-3zM0 21h4v1h-4zM27 21h3v1h-3zM0 22h4v1h-4zM27 22h3v1h-3zM0 23h5v1h-5zM26 23h4v1h-4zM0 24h5v1h-5zM25 24h5v1h-5zM0 25h6v1h-6zM25 25h5v1h-5zM0 26h7v1h-7zM24 26h6v1h-6zM0 27h8v1h-8zM23 27h7v1h-7zM0 28h9v1h-9zM21 28h9v1h-9zM0 29h11v1h-11zM19 29h11v1h-11z"/><path fill="#000098" d="M10 1h10v1h-10zM8 2h3v1h-3zM20 2h2v1h-2zM7 3h2v1h-2zM22 3h1v1h-1zM6 4h1v1h-1zM23 4h1v1h-1zM5 5h2v1h-2zM24 5h1v1h-1zM5 6h1v1h-1zM25 6h1v1h-1zM4 7h1v1h-1zM25 7h1v1h-1zM4 8h1v1h-1zM26 8h1v1h-1zM3 9h1v1h-1zM26 9h1v1h-1zM3 10h1v1h-1zM27 10h1v1h-1zM3 11h1v1h-1zM27 11h1v1h-1zM3 12h1v1h-1zM27 12h1v1h-1zM27 13h1v1h-1zM27 14h1v1h-1zM27 15h1v1h-1zM3 16h1v1h-1zM27 16h1v1h-1zM3 17h1v1h-1zM27 17h1v1h-1zM3 18h1v1h-1zM27 18h1v1h-1zM3 19h1v1h-1zM27 19h1v1h-1zM3 20h1v1h-1zM26 20h1v1h-1zM4 21h1v1h-1zM26 21h1v1h-1zM4 22h1v1h-1zM25 22h2v1h-2zM5 23h1v1h-1zM25 23h1v1h-1zM5 24h1v1h-1zM24 24h1v1h-1zM6 25h1v1h-1zM23 25h2v1h-2zM7 26h1v1h-1zM22 26h2v1h-2zM8 27h2v1h-2zM21 27h2v1h-2zM9 28h3v1h-3zM18 28h3v1h-3zM11 29h8v1h-8z"/><path fill="#0000a0" d="M11 2h3v1h-3zM16 2h4v1h-4zM9 3h1v1h-1zM20 3h2v1h-2zM7 4h1v1h-1zM22 4h1v1h-1zM23 5h1v1h-1zM24 6h1v1h-1zM5 7h1v1h-1zM25 8h1v1h-1zM4 9h1v1h-1zM4 10h1v1h-1zM26 10h1v1h-1zM26 11h1v1h-1zM3 13h1v1h-1zM3 14h1v1h-1zM3 15h1v1h-1zM26 18h1v1h-1zM4 19h1v1h-1zM26 19h1v1h-1zM4 20h1v1h-1zM25 21h1v1h-1zM5 22h1v1h-1zM24 23h1v1h-1zM6 24h1v1h-1zM23 24h1v1h-1zM7 25h1v1h-1zM22 25h1v1h-1zM8 26h1v1h-1zM21 26h1v1h-1zM10 27h1v1h-1zM19 27h2v1h-2zM12 28h6v1h-6z"/><path fill="#0000a8" d="M14 2h2v1h-2zM10 3h1v1h-1zM19 3h1v1h-1zM8 4h1v1h-1zM21 4h1v1h-1zM7 5h1v1h-1zM22 5h1v1h-1zM6 6h1v1h-1zM23 6h1v1h-1zM24 7h1v1h-1zM5 8h1v1h-1zM25 9h1v1h-1zM4 11h1v1h-1zM26 12h1v1h-1zM26 13h1v1h-1zM26 14h1v1h-1zM26 15h1v1h-1zM26 16h1v1h-1zM4 17h1v1h-1zM26 17h1v1h-1zM4 18h1v1h-1zM25 20h1v1h-1zM5 21h1v1h-1zM24 22h1v1h-1zM6 23h1v1h-1zM7 24h1v1h-1zM8 25h1v1h-1zM9 26h1v1h-1zM20 26h1v1h-1zM11 27h3v1h-3zM16 27h3v1h-3z"/><path fill="#0000b0" d="M11 3h2v1h-2zM17 3h2v1h-2zM9 4h1v1h-1zM20 4h1v1h-1zM6 7h1v1h-1zM24 8h1v1h-1zM5 9h1v1h-1zM25 10h1v1h-1zM4 12h1v1h-1zM4 13h1v1h-1zM4 14h1v1h-1zM4 15h1v1h-1zM4 16h1v1h-1zM25 19h1v1h-1zM5 20h1v1h-1zM24 21h1v1h-1zM6 22h1v1h-1zM23 23h1v1h-1zM22 24h1v1h-1zM21 25h1v1h-1zM10 26h1v1h-1zM19 26h1v1h-1zM14 27h2v1h-2z"/><path fill="#0000b8" d="M13 3h4v1h-4zM10 4h1v1h-1zM8 5h1v1h-1zM21 5h1v1h-1zM7 6h1v1h-1zM23 7h1v1h-1zM5 10h1v1h-1zM25 11h1v1h-1zM25 17h1v1h-1zM25 18h1v1h-1zM5 19h1v1h-1zM23 22h1v1h-1zM7 23h1v1h-1zM8 24h1v1h-1zM9 25h1v1h-1zM20 25h1v1h-1zM11 26h2v1h-2zM18 26h1v1h-1z"/><path fill="#0000c0" d="M19 4h1v1h-1zM22 6h1v1h-1zM6 8h1v1h-1zM24 9h1v1h-1zM25 12h1v1h-1zM25 13h1v1h-1zM25 14h1v1h-1zM25 15h1v1h-1zM25 16h1v1h-1zM5 18h1v1h-1zM24 20h1v1h-1zM6 21h1v1h-1zM22 23h1v1h-1zM21 24h1v1h-1zM10 25h1v1h-1zM13 26h5v1h-5z"/><path fill="#0000c8" d="M11 4h1v1h-1zM18 4h1v1h-1zM9 5h1v1h-1zM20 5h1v1h-1zM8 6h1v1h-1zM7 7h1v1h-1zM5 11h1v1h-1zM5 17h1v1h-1zM24 19h1v1h-1zM23 21h1v1h-1zM7 22h1v1h-1zM9 24h1v1h-1zM19 25h1v1h-1z"/><path fill="#0000d0" d="M12 4h2v1h-2zM16 4h2v1h-2zM21 6h1v1h-1zM22 7h1v1h-1zM23 8h1v1h-1zM6 9h1v1h-1zM24 10h1v1h-1zM5 12h1v1h-1zM5 13h1v1h-1zM5 15h1v1h-1zM5 16h1v1h-1zM6 20h1v1h-1zM8 23h1v1h-1zM20 24h1v1h-1zM11 25h1v1h-1zM18 25h1v1h-1z"/><path fill="#0000d8" d="M14 4h2v1h-2zM10 5h1v1h-1zM19 5h1v1h-1zM24 11h1v1h-1zM5 14h1v1h-1zM24 18h1v1h-1zM22 22h1v1h-1zM21 23h1v1h-1zM12 25h1v1h-1zM17 25h1v1h-1z"/><path fill="#0000e0" d="M7 8h1v1h-1zM23 9h1v1h-1zM6 10h1v1h-1zM24 17h1v1h-1zM6 19h1v1h-1zM23 20h1v1h-1zM7 21h1v1h-1zM10 24h1v1h-1zM19 24h1v1h-1zM13 25h4v1h-4z"/><path fill="#0000e8" d="M11 5h1v1h-1zM18 5h1v1h-1zM9 6h1v1h-1zM20 6h1v1h-1zM8 7h1v1h-1zM24 12h1v1h-1zM24 16h1v1h-1zM8 22h1v1h-1zM9 23h1v1h-1z"/><path fill="#0000f0" d="M21 7h1v1h-1zM22 8h1v1h-1zM6 11h1v1h-1zM24 13h1v1h-1zM24 14h1v1h-1zM24 15h1v1h-1zM6 18h1v1h-1zM23 19h1v1h-1zM22 21h1v1h-1zM20 23h1v1h-1zM11 24h1v1h-1z"/><path fill="#0000f8" d="M12 5h1v1h-1zM17 5h1v1h-1zM7 9h1v1h-1zM23 10h1v1h-1zM6 17h1v1h-1zM7 20h1v1h-1zM21 22h1v1h-1zM18 24h1v1h-1z"/><path fill="#0001ff" d="M13 5h4v1h-4zM10 6h1v1h-1zM6 12h1v1h-1zM12 24h1v1h-1zM17 24h1v1h-1z"/><path fill="#0009ff" d="M19 6h1v1h-1zM6 13h1v1h-1zM6 16h1v1h-1zM23 18h1v1h-1zM8 21h1v1h-1zM10 23h1v1h-1zM13 24h1v1h-1zM16 24h1v1h-1z"/><path fill="#0011ff" d="M9 7h1v1h-1zM8 8h1v1h-1zM22 9h1v1h-1zM23 11h1v1h-1zM6 14h1v1h-1zM6 15h1v1h-1zM7 19h1v1h-1zM22 20h1v1h-1zM9 22h1v1h-1zM19 23h1v1h-1zM14 24h2v1h-2z"/><path fill="#0019ff" d="M11 6h1v1h-1zM20 7h1v1h-1zM7 10h1v1h-1zM23 17h1v1h-1zM21 21h1v1h-1zM20 22h1v1h-1z"/><path fill="#0021ff" d="M18 6h1v1h-1zM21 8h1v1h-1zM23 12h1v1h-1zM11 23h1v1h-1z"/><path fill="#0029ff" d="M23 16h1v1h-1zM18 23h1v1h-1z"/><path fill="#0031ff" d="M12 6h1v1h-1zM17 6h1v1h-1zM23 13h1v1h-1zM23 15h1v1h-1zM7 18h1v1h-1zM22 19h1v1h-1zM8 20h1v1h-1z"/><path fill="#0039ff" d="M10 7h1v1h-1zM8 9h1v1h-1zM22 10h1v1h-1zM7 11h1v1h-1zM23 14h1v1h-1zM10 22h1v1h-1zM12 23h1v1h-1zM17 23h1v1h-1z"/><path fill="#0041ff" d="M13 6h1v1h-1zM15 6h2v1h-2zM19 7h1v1h-1zM9 8h1v1h-1zM9 21h1v1h-1zM19 22h1v1h-1z"/><path fill="#0049ff" d="M14 6h1v1h-1zM7 17h1v1h-1zM21 20h1v1h-1zM13 23h1v1h-1zM16 23h1v1h-1z"/><path fill="#0051ff" d="M20 8h1v1h-1zM21 9h1v1h-1zM7 12h1v1h-1zM22 18h1v1h-1zM20 21h1v1h-1zM14 23h2v1h-2z"/><path fill="#0059ff" d="M22 11h1v1h-1zM7 16h1v1h-1zM8 19h1v1h-1z"/><path fill="#0061ff" d="M11 7h1v1h-1zM18 7h1v1h-1zM7 13h1v1h-1zM11 22h1v1h-1z"/><path fill="#0069ff" d="M8 10h1v1h-1zM7 14h1v1h-1zM7 15h1v1h-1zM22 17h1v1h-1zM18 22h1v1h-1z"/><path fill="#0079ff" d="M22 12h1v1h-1zM21 19h1v1h-1zM9 20h1v1h-1zM10 21h1v1h-1z"/><path fill="#0082ff" d="M12 7h1v1h-1zM17 7h1v1h-1zM10 8h1v1h-1zM9 9h1v1h-1zM21 10h1v1h-1zM22 16h1v1h-1zM19 21h1v1h-1zM12 22h1v1h-1zM17 22h1v1h-1z"/><path fill="#008aff" d="M19 8h1v1h-1zM22 13h1v1h-1zM8 18h1v1h-1zM20 20h1v1h-1z"/><path fill="#0092ff" d="M13 7h1v1h-1zM16 7h1v1h-1zM20 9h1v1h-1zM8 11h1v1h-1zM22 14h1v1h-1zM22 15h1v1h-1z"/><path fill="#009aff" d="M14 7h2v1h-2zM13 22h1v1h-1zM16 22h1v1h-1z"/><path fill="#00a2ff" d="M14 22h2v1h-2z"/><path fill="#00aaff" d="M8 17h1v1h-1zM21 18h1v1h-1z"/><path fill="#00b2ff" d="M11 8h1v1h-1zM21 11h1v1h-1zM9 19h1v1h-1zM11 21h1v1h-1z"/><path fill="#00baff" d="M18 8h1v1h-1zM8 12h1v1h-1zM18 21h1v1h-1z"/><path fill="#00c2ff" d="M9 10h1v1h-1zM10 20h1v1h-1z"/><path fill="#00caff" d="M8 16h1v1h-1zM20 19h1v1h-1z"/><path fill="#00d2ff" d="M10 9h1v1h-1zM8 13h1v1h-1zM21 17h1v1h-1zM19 20h1v1h-1z"/><path fill="#00daff" d="M19 9h1v1h-1zM20 10h1v1h-1zM8 15h1v1h-1zM12 21h1v1h-1z"/><path fill="#00e2ff" d="M12 8h1v1h-1zM17 8h1v1h-1zM21 12h1v1h-1zM8 14h1v1h-1zM17 21h1v1h-1z"/><path fill="#00f2ff" d="M21 16h1v1h-1zM9 18h1v1h-1z"/><path fill="#00faff" d="M13 8h1v1h-1zM16 8h1v1h-1zM13 21h1v1h-1zM16 21h1v1h-1z"/><path fill="#03fffc" d="M9 11h1v1h-1zM21 13h1v1h-1zM14 21h2v1h-2z"/><path fill="#0bfff4" d="M14 8h2v1h-2zM21 14h1v1h-1zM21 15h1v1h-1zM20 18h1v1h-1zM11 20h1v1h-1z"/><path fill="#13ffec" d="M10 19h1v1h-1zM18 20h1v1h-1z"/><path fill="#1bffe4" d="M11 9h1v1h-1zM18 9h1v1h-1z"/><path fill="#23ffdc" d="M10 10h1v1h-1zM20 11h1v1h-1zM9 17h1v1h-1zM19 19h1v1h-1z"/><path fill="#33ffcc" d="M19 10h1v1h-1z"/><path fill="#3bffc4" d="M9 12h1v1h-1z"/><path fill="#43ffbc" d="M20 17h1v1h-1zM12 20h1v1h-1zM17 20h1v1h-1z"/><path fill="#53ffac" d="M12 9h1v1h-1zM17 9h1v1h-1zM9 16h1v1h-1z"/><path fill="#5bffa4" d="M20 12h1v1h-1z"/><path fill="#63ff9c" d="M9 13h1v1h-1zM10 18h1v1h-1z"/><path fill="#6bff94" d="M9 15h1v1h-1zM11 19h1v1h-1zM13 20h1v1h-1zM16 20h1v1h-1z"/><path fill="#73ff8c" d="M9 14h1v1h-1zM20 16h1v1h-1zM19 18h1v1h-1zM18 19h1v1h-1z"/><path fill="#7bff84" d="M13 9h1v1h-1zM16 9h1v1h-1zM10 11h1v1h-1zM14 20h2v1h-2z"/><path fill="#84ff7b" d="M11 10h1v1h-1zM20 13h1v1h-1z"/><path fill="#8cff73" d="M14 9h2v1h-2zM18 10h1v1h-1zM19 11h1v1h-1z"/><path fill="#94ff6b" d="M20 14h1v1h-1zM20 15h1v1h-1z"/><path fill="#acff53" d="M10 17h1v1h-1z"/><path fill="#b4ff4b" d="M12 19h1v1h-1zM17 19h1v1h-1z"/><path fill="#bcff43" d="M19 17h1v1h-1z"/><path fill="#c4ff3b" d="M10 12h1v1h-1z"/><path fill="#ccff33" d="M12 10h1v1h-1zM17 10h1v1h-1zM11 18h1v1h-1z"/><path fill="#d4ff2b" d="M18 18h1v1h-1z"/><path fill="#dcff23" d="M19 12h1v1h-1z"/><path fill="#e4ff1b" d="M10 16h1v1h-1zM13 19h1v1h-1zM16 19h1v1h-1z"/><path fill="#ecff13" d="M11 11h1v1h-1z"/><path fill="#f4ff0b" d="M18 11h1v1h-1zM10 13h1v1h-1zM14 19h2v1h-2z"/><path fill="#fcff03" d="M13 10h1v1h-1zM16 10h1v1h-1zM19 16h1v1h-1z"/><path fill="#fffa00" d="M10 15h1v1h-1z"/><path fill="#fff200" d="M19 13h1v1h-1zM10 14h1v1h-1z"/><path fill="#ffea00" d="M14 10h2v1h-2z"/><path fill="#ffe200" d="M19 15h1v1h-1z"/><path fill="#ffda00" d="M19 14h1v1h-1zM11 17h1v1h-1zM12 18h1v1h-1zM17 18h1v1h-1z"/><path fill="#ffd200" d="M18 17h1v1h-1z"/><path fill="#ffba00" d="M12 11h1v1h-1zM17 11h1v1h-1zM11 12h1v1h-1z"/><path fill="#ffb200" d="M18 12h1v1h-1z"/><path fill="#ffaa00" d="M16 18h1v1h-1z"/><path fill="#ffa200" d="M13 18h1v1h-1z"/><path fill="#ff9a00" d="M11 16h1v1h-1z"/><path fill="#ff9200" d="M14 18h2v1h-2z"/><path fill="#ff8a00" d="M18 16h1v1h-1z"/><path fill="#ff8200" d="M13 11h1v1h-1zM16 11h1v1h-1z"/><path fill="#ff7900" d="M11 13h1v1h-1zM12 17h1v1h-1zM17 17h1v1h-1z"/><path fill="#ff7100" d="M18 13h1v1h-1z"/><path fill="#ff6900" d="M14 11h2v1h-2zM11 15h1v1h-1z"/><path fill="#ff6100" d="M11 14h1v1h-1zM18 15h1v1h-1z"/><path fill="#ff5100" d="M12 12h1v1h-1zM17 12h1v1h-1zM18 14h1v1h-1z"/><path fill="#ff3900" d="M13 17h1v1h-1zM16 17h1v1h-1z"/><path fill="#ff2900" d="M12 16h1v1h-1zM17 16h1v1h-1z"/><path fill="#ff2100" d="M14 17h2v1h-2z"/><path fill="#ff1100" d="M13 12h1v1h-1zM16 12h1v1h-1z"/><path fill="#ff0900" d="M12 13h1v1h-1zM17 13h1v1h-1z"/><path fill="#f80000" d="M14 12h2v1h-2zM12 15h1v1h-1zM17 15h1v1h-1z"/><path fill="#e80000" d="M12 14h1v1h-1zM17 14h1v1h-1z"/><path fill="#e00000" d="M13 16h1v1h-1zM16 16h1v1h-1z"/><path fill="#c80000" d="M14 16h2v1h-2z"/><path fill="#c00000" d="M13 13h1v1h-1zM16 13h1v1h-1z"/><path fill="#b00000" d="M13 15h1v1h-1zM16 15h1v1h-1z"/><path fill="#a80000" d="M15 13h1v1h-1z"/><path fill="#a00000" d="M14 13h1v1h-1zM13 14h1v1h-1zM16 14h1v1h-1z"/><path fill="#900000" d="M14 15h2v1h-2z"/><path fill="#800000" d="M14 14h2v1h-2z"/></g>
<rect x="891.5" y="39.5" width="249" height="249" fill="none" stroke="#0a0a30" stroke-width="1"/>
<g transform="translate(131 344) scale(8.33333 8.33333)" shape-rendering="crispEdges"><path fill="#000090" d="M0 0h30v1h-30zM0 1h30v1h-30zM0 2h11v1h-11zM19 2h11v1h-11zM0 3h9v1h-9zM21 3h9v1h-9zM0 4h7v1h-7zM23 4h7v1h-7zM0 5h6v1h-6zM24 5h6v1h-6zM0 6h5v1h-5zM25 6h5v1h-5zM0 7h5v1h-5zM26 7h4v1h-4zM0 8h4v1h-4zM26 8h4v1h-4zM0 9h4v1h-4zM27 9h3v1h-3zM0 10h3v1h-3zM27 10h3v1h-3zM0 11h3v1h-3zM27 11h3v1h-3zM0 12h3v1h-3zM28 12h2v1h-2zM0 13h3v1h-3zM28 13h2v1h-2zM0 14h3v1h-3zM28 14h2v1h-2zM0 15h3v1h-3zM28 15h2v1h-2zM0 16h3v1h-3zM27 16h3v1h-3zM0 17h3v1h-3zM27 17h3v1h-3zM0 18h3v1h-3zM27 18h3v1h-3zM0 19h4v1h-4zM27 19h3v1h-3zM0 20h4v1h-4zM26 20h4v1h-4zM0 21h5v1h-5zM26 21h4v1h-4zM0 22h5v1h-5zM25 22h5v1h-5zM0 23h6v1h-6zM24 23h6v1h-6zM0 24h7v1h-7zM23 24h7v1h-7zM0 25h8v1h-8zM22 25h8v1h-8zM0 26h9v1h-9zM20 26h10v1h-10zM0 27h12v1h-12zM18 27h12v1h-12zM0 28h30v1h-30zM0 29h30v1h-30z"/><path fill="#000098" d="M11 2h8v1h-8zM9 3h2v1h-2zM19 3h2v1h-2zM7 4h2v1h-2zM21 4h2v1h-2zM6 5h1v1h-1zM22 5h2v1h-2zM5 6h1v1h-1zM23 6h2v1h-2zM5 7h1v1h-1zM24 7h2v1h-2zM4 8h1v1h-1zM25 8h1v1h-1zM4 9h1v1h-1zM26 9h1v1h-1zM3 10h1v1h-1zM26 10h1v1h-1zM3 11h1v1h-1zM26 11h1v1h-1zM3 12h1v1h-1zM27 12h1v1h-1zM3 13h1v1h-1zM27 13h1v1h-1zM3 14h1v1h-1zM27 14h1v1h-1zM3 15h1v1h-1zM27 15h1v1h-1zM3 16h1v1h-1zM26 16h1v1h-1zM3 17h1v1h-1zM26 17h1v1h-1zM3 18h1v1h-1zM26 18h1v1h-1zM4 19h1v1h-1zM25 19h2v1h-2zM4 20h1v1h-1zM25 20h1v1h-1zM5 21h1v1h-1zM24 21h2v1h-2zM5 22h1v1h-1zM24 22h1v1h-1zM6 23h1v1h-1zM23 23h1v1h-1zM7 24h1v1h-1zM21 24h2v1h-2zM8 25h2v1h-2zM20 25h2v1h-2zM9 26h3v1h-3zM17 26h3v1h-3zM12 27h6v1h-6z"/><path fill="#0000a0" d="M11 3h2v1h-2zM16 3h3v1h-3zM9 4h1v1h-1zM20 4h1v1h-1zM7 5h1v1h-1zM21 5h1v1h-1zM6 6h1v1h-1zM5 8h1v1h-1zM24 8h1v1h-1zM25 9h1v1h-1zM4 10h1v1h-1zM25 10h1v1h-1zM26 12h1v1h-1zM26 13h1v1h-1zM26 14h1v1h-1zM26 15h1v1h-1zM4 17h1v1h-1zM4 18h1v1h-1zM25 18h1v1h-1zM5 20h1v1h-1zM24 20h1v1h-1zM6 22h1v1h-1zM23 22h1v1h-1zM7 23h1v1h-1zM22 23h1v1h-1zM8 24h1v1h-1zM20 24h1v1h-1zM10 25h1v1h-1zM18 25h2v1h-2zM12 26h5v1h-5z"/><path fill="#0000a8" d="M13 3h3v1h-3zM10 4h1v1h-1zM19 4h1v1h-1zM8 5h1v1h-1zM7 6h1v1h-1zM22 6h1v1h-1zM6 7h1v1h-1zM23 7h1v1h-1zM5 9h1v1h-1zM24 9h1v1h-1zM4 11h1v1h-1zM25 11h1v1h-1zM4 12h1v1h-1zM4 13h1v1h-1zM4 14h1v1h-1zM4 15h1v1h-1zM4 16h1v1h-1zM25 16h1v1h-1zM25 17h1v1h-1zM5 19h1v1h-1zM24 19h1v1h-1zM6 21h1v1h-1zM23 21h1v1h-1zM7 22h1v1h-1zM22 22h1v1h-1zM8 23h1v1h-1zM21 23h1v1h-1zM9 24h1v1h-1zM19 24h1v1h-1zM11 25h2v1h-2zM16 25h2v1h-2z"/><path fill="#0000b0" d="M11 4h1v1h-1zM17 4h2v1h-2zM9 5h1v1h-1zM20 5h1v1h-1zM21 6h1v1h-1zM6 8h1v1h-1zM23 8h1v1h-1zM5 10h1v1h-1zM25 12h1v1h-1zM25 13h1v1h-1zM25 14h1v1h-1zM25 15h1v1h-1zM5 18h1v1h-1zM24 18h1v1h-1zM6 20h1v1h-1zM23 20h1v1h-1zM22 21h1v1h-1zM20 23h1v1h-1zM10 24h1v1h-1zM18 24h1v1h-1zM13 25h3v1h-3z"/><path fill="#0000b8" d="M12 4h1v1h-1zM16 4h1v1h-1zM19 5h1v1h-1zM8 6h1v1h-1zM7 7h1v1h-1zM22 7h1v1h-1zM24 10h1v1h-1zM5 17h1v1h-1zM24 17h1v1h-1zM23 19h1v1h-1zM7 21h1v1h-1zM8 22h1v1h-1zM21 22h1v1h-1zM9 23h1v1h-1zM11 24h1v1h-1zM17 24h1v1h-1z"/><path fill="#0000c0" d="M13 4h3v1h-3zM10 5h1v1h-1zM20 6h1v1h-1zM6 9h1v1h-1zM23 9h1v1h-1zM5 11h1v1h-1zM24 11h1v1h-1zM5 12h1v1h-1zM5 16h1v1h-1zM24 16h1v1h-1zM6 19h1v1h-1zM19 23h1v1h-1zM12 24h1v1h-1zM16 24h1v1h-1z"/><path fill="#0000c8" d="M18 5h1v1h-1zM9 6h1v1h-1zM21 7h1v1h-1zM22 8h1v1h-1zM24 12h1v1h-1zM5 13h1v1h-1zM24 13h1v1h-1zM5 14h1v1h-1zM24 14h1v1h-1zM5 15h1v1h-1zM24 15h1v1h-1zM6 18h1v1h-1zM23 18h1v1h-1zM7 20h1v1h-1zM22 20h1v1h-1zM21 21h1v1h-1zM20 22h1v1h-1zM10 23h1v1h-1zM13 24h3v1h-3z"/><path fill="#0000d0" d="M11 5h1v1h-1zM17 5h1v1h-1zM8 7h1v1h-1zM7 8h1v1h-1zM6 10h1v1h-1zM23 10h1v1h-1zM8 21h1v1h-1zM9 22h1v1h-1zM18 23h1v1h-1z"/><path fill="#0000d8" d="M12 5h1v1h-1zM19 6h1v1h-1zM6 17h1v1h-1zM23 17h1v1h-1zM22 19h1v1h-1zM19 22h1v1h-1zM11 23h1v1h-1zM17 23h1v1h-1z"/><path fill="#0000e0" d="M13 5h1v1h-1zM15 5h2v1h-2zM10 6h1v1h-1zM22 9h1v1h-1zM6 11h1v1h-1zM23 11h1v1h-1zM7 19h1v1h-1zM21 20h1v1h-1zM20 21h1v1h-1zM12 23h1v1h-1z"/><path fill="#0000e8" d="M14 5h1v1h-1zM20 7h1v1h-1zM21 8h1v1h-1zM7 9h1v1h-1zM6 16h1v1h-1zM23 16h1v1h-1zM8 20h1v1h-1zM10 22h1v1h-1zM13 23h1v1h-1zM16 23h1v1h-1z"/><path fill="#0000f0" d="M18 6h1v1h-1zM9 7h1v1h-1zM8 8h1v1h-1zM6 12h1v1h-1zM23 12h1v1h-1zM6 15h1v1h-1zM23 15h1v1h-1zM22 18h1v1h-1zM9 21h1v1h-1zM18 22h1v1h-1zM14 23h2v1h-2z"/><path fill="#0000f8" d="M11 6h1v1h-1zM22 10h1v1h-1zM6 13h1v1h-1zM23 13h1v1h-1zM6 14h1v1h-1zM23 14h1v1h-1zM7 18h1v1h-1z"/><path fill="#0001ff" d="M17 6h1v1h-1zM19 7h1v1h-1zM7 10h1v1h-1zM21 19h1v1h-1zM19 21h1v1h-1zM11 22h1v1h-1z"/><path fill="#0009ff" d="M22 17h1v1h-1zM20 20h1v1h-1zM17 22h1v1h-1z"/><path fill="#0011ff" d="M12 6h1v1h-1zM16 6h1v1h-1zM20 8h1v1h-1zM21 9h1v1h-1zM7 17h1v1h-1zM8 19h1v1h-1zM10 21h1v1h-1zM12 22h1v1h-1z"/><path fill="#0019ff" d="M10 7h1v1h-1zM8 9h1v1h-1zM22 11h1v1h-1zM22 16h1v1h-1zM9 20h1v1h-1zM16 22h1v1h-1z"/><path fill="#0021ff" d="M13 6h3v1h-3zM9 8h1v1h-1zM7 11h1v1h-1zM21 18h1v1h-1zM18 21h1v1h-1zM13 22h1v1h-1zM15 22h1v1h-1z"/><path fill="#0029ff" d="M18 7h1v1h-1zM22 12h1v1h-1zM7 16h1v1h-1zM14 22h1v1h-1z"/><path fill="#0031ff" d="M22 15h1v1h-1zM8 18h1v1h-1zM20 19h1v1h-1zM19 20h1v1h-1z"/><path fill="#0039ff" d="M11 7h1v1h-1zM21 10h1v1h-1zM7 12h1v1h-1zM22 13h1v1h-1zM22 14h1v1h-1zM7 15h1v1h-1zM11 21h1v1h-1z"/><path fill="#0041ff" d="M19 8h1v1h-1zM7 13h1v1h-1zM7 14h1v1h-1zM17 21h1v1h-1z"/><path fill="#0049ff" d="M17 7h1v1h-1zM20 9h1v1h-1zM8 10h1v1h-1zM21 17h1v1h-1zM9 19h1v1h-1zM10 20h1v1h-1z"/><path fill="#0059ff" d="M12 7h1v1h-1zM10 8h1v1h-1zM21 11h1v1h-1zM8 17h1v1h-1zM12 21h1v1h-1z"/><path fill="#0061ff" d="M16 7h1v1h-1zM9 9h1v1h-1zM20 18h1v1h-1zM18 20h1v1h-1zM16 21h1v1h-1z"/><path fill="#0069ff" d="M21 16h1v1h-1zM13 21h1v1h-1z"/><path fill="#0071ff" d="M13 7h1v1h-1zM18 8h1v1h-1zM8 11h1v1h-1zM19 19h1v1h-1zM14 21h2v1h-2z"/><path fill="#0079ff" d="M14 7h2v1h-2zM21 12h1v1h-1z"/><path fill="#0082ff" d="M20 10h1v1h-1zM21 15h1v1h-1zM8 16h1v1h-1zM9 18h1v1h-1zM11 20h1v1h-1z"/><path fill="#008aff" d="M19 9h1v1h-1z"/><path fill="#0092ff" d="M11 8h1v1h-1zM21 13h1v1h-1zM21 14h1v1h-1zM10 19h1v1h-1zM17 20h1v1h-1z"/><path fill="#009aff" d="M8 12h1v1h-1zM8 15h1v1h-1zM20 17h1v1h-1z"/><path fill="#00a2ff" d="M17 8h1v1h-1zM9 10h1v1h-1z"/><path fill="#00aaff" d="M10 9h1v1h-1zM8 13h1v1h-1zM8 14h1v1h-1zM12 20h1v1h-1z"/><path fill="#00b2ff" d="M19 18h1v1h-1zM18 19h1v1h-1z"/><path fill="#00baff" d="M20 11h1v1h-1zM9 17h1v1h-1zM16 20h1v1h-1z"/><path fill="#00c2ff" d="M12 8h1v1h-1z"/><path fill="#00caff" d="M16 8h1v1h-1zM20 16h1v1h-1zM13 20h1v1h-1z"/><path fill="#00d2ff" d="M18 9h1v1h-1zM15 20h1v1h-1z"/><path fill="#00daff" d="M19 10h1v1h-1zM10 18h1v1h-1zM11 19h1v1h-1zM14 20h1v1h-1z"/><path fill="#00e2ff" d="M13 8h1v1h-1zM9 11h1v1h-1z"/><path fill="#00eaff" d="M15 8h1v1h-1zM20 12h1v1h-1zM20 15h1v1h-1zM17 19h1v1h-1z"/><path fill="#00f2ff" d="M14 8h1v1h-1zM9 16h1v1h-1z"/><path fill="#00faff" d="M11 9h1v1h-1zM19 17h1v1h-1z"/><path fill="#03fffc" d="M10 10h1v1h-1zM20 13h1v1h-1zM20 14h1v1h-1zM18 18h1v1h-1z"/><path fill="#13ffec" d="M17 9h1v1h-1zM9 12h1v1h-1zM12 19h1v1h-1z"/><path fill="#1bffe4" d="M9 15h1v1h-1z"/><path fill="#23ffdc" d="M19 11h1v1h-1zM16 19h1v1h-1z"/><path fill="#2bffd4" d="M10 17h1v1h-1z"/><path fill="#33ffcc" d="M18 10h1v1h-1zM9 13h1v1h-1zM9 14h1v1h-1z"/><path fill="#3bffc4" d="M19 16h1v1h-1zM11 18h1v1h-1z"/><path fill="#43ffbc" d="M12 9h1v1h-1zM13 19h1v1h-1zM15 19h1v1h-1z"/><path fill="#4bffb4" d="M16 9h1v1h-1z"/><path fill="#53ffac" d="M17 18h1v1h-1zM14 19h1v1h-1z"/><path fill="#5bffa4" d="M10 11h1v1h-1zM18 17h1v1h-1z"/><path fill="#63ff9c" d="M19 12h1v1h-1z"/><path fill="#6bff94" d="M11 10h1v1h-1zM19 15h1v1h-1z"/><path fill="#73ff8c" d="M13 9h1v1h-1zM15 9h1v1h-1zM10 16h1v1h-1z"/><path fill="#84ff7b" d="M14 9h1v1h-1zM19 13h1v1h-1z"/><path fill="#8cff73" d="M19 14h1v1h-1zM12 18h1v1h-1z"/><path fill="#94ff6b" d="M17 10h1v1h-1z"/><path fill="#9cff63" d="M18 11h1v1h-1zM11 17h1v1h-1zM16 18h1v1h-1z"/><path fill="#a4ff5b" d="M10 12h1v1h-1z"/><path fill="#acff53" d="M10 15h1v1h-1z"/><path fill="#b4ff4b" d="M18 16h1v1h-1z"/><path fill="#c4ff3b" d="M17 17h1v1h-1zM13 18h1v1h-1zM15 18h1v1h-1z"/><path fill="#ccff33" d="M12 10h1v1h-1zM10 13h1v1h-1zM10 14h1v1h-1z"/><path fill="#d4ff2b" d="M14 18h1v1h-1z"/><path fill="#dcff23" d="M16 10h1v1h-1zM11 11h1v1h-1z"/><path fill="#ecff13" d="M18 12h1v1h-1z"/><path fill="#f4ff0b" d="M18 15h1v1h-1z"/><path fill="#fcff03" d="M11 16h1v1h-1z"/><path fill="#fffa00" d="M13 10h1v1h-1zM17 11h1v1h-1zM12 17h1v1h-1z"/><path fill="#fff200" d="M15 10h1v1h-1z"/><path fill="#ffea00" d="M18 13h1v1h-1zM18 14h1v1h-1zM16 17h1v1h-1z"/><path fill="#ffe200" d="M14 10h1v1h-1z"/><path fill="#ffda00" d="M17 16h1v1h-1z"/><path fill="#ffc200" d="M11 12h1v1h-1z"/><path fill="#ffba00" d="M11 15h1v1h-1zM13 17h1v1h-1z"/><path fill="#ffb200" d="M12 11h1v1h-1zM15 17h1v1h-1z"/><path fill="#ffa200" d="M14 17h1v1h-1z"/><path fill="#ff9a00" d="M16 11h1v1h-1z"/><path fill="#ff9200" d="M17 12h1v1h-1zM11 13h1v1h-1zM11 14h1v1h-1zM12 16h1v1h-1z"/><path fill="#ff8a00" d="M17 15h1v1h-1z"/><path fill="#ff7900" d="M16 16h1v1h-1z"/><path fill="#ff6100" d="M13 11h1v1h-1z"/><path fill="#ff5900" d="M15 11h1v1h-1zM17 13h1v1h-1zM17 14h1v1h-1z"/><path fill="#ff4900" d="M14 11h1v1h-1z"/><path fill="#ff4100" d="M12 12h1v1h-1z"/><path fill="#ff3900" d="M12 15h1v1h-1zM13 16h1v1h-1z"/><path fill="#ff3100" d="M15 16h1v1h-1z"/><path fill="#ff2900" d="M16 12h1v1h-1z"/><path fill="#ff2100" d="M14 16h1v1h-1z"/><path fill="#ff1900" d="M16 15h1v1h-1z"/><path fill="#ff0900" d="M12 13h1v1h-1z"/><path fill="#ff0100" d="M12 14h1v1h-1z"/><path fill="#e80000" d="M13 12h1v1h-1zM16 13h1v1h-1zM16 14h1v1h-1z"/><path fill="#e00000" d="M15 12h1v1h-1z"/><path fill="#d80000" d="M13 15h1v1h-1z"/><path fill="#d00000" d="M15 15h1v1h-1z"/><path fill="#c80000" d="M14 12h1v1h-1z"/><path fill="#b80000" d="M14 15h1v1h-1z"/><path fill="#a00000" d="M13 13h1v1h-1zM13 14h1v1h-1z"/><path fill="#980000" d="M15 13h1v1h-1zM15 14h1v1h-1z"/><path fill="#800000" d="M14 13h1v1h-1zM14 14h1v1h-1z"/></g>
<rect x="131.5" y="344.5" width="249" height="249" fill="none" stroke="#0a0a30" stroke-width="1"/>
<g transform="translate(511 344) scale(8.33333 8.33333)" shape-rendering="crispEdges"><path fill="#000088" d="M0 1h2v1h-2zM0 6h1v1h-1zM0 7h1v1h-1zM0 8h1v1h-1zM0 11h1v1h-1zM0 12h1v1h-1zM0 13h1v1h-1zM0 14h1v1h-1zM0 15h1v1h-1zM0 16h1v1h-1zM0 17h1v1h-1zM0 18h1v1h-1zM0 19h1v1h-1zM0 20h1v1h-1zM0 21h1v1h-1zM0 22h1v1h-1zM0 23h1v1h-1zM0 24h2v1h-2zM0 25h2v1h-2z"/><path fill="#000090" d="M0 0h12v1h-12zM22 0h8v1h-8zM2 1h4v1h-4zM27 1h3v1h-3zM0 2h4v1h-4zM28 2h2v1h-2zM0 3h3v1h-3zM29 3h1v1h-1zM0 4h2v1h-2zM29 4h1v1h-1zM0 5h2v1h-2zM29 5h1v1h-1zM1 6h2v1h-2zM29 6h1v1h-1zM1 7h1v1h-1zM0 9h1v1h-1zM0 10h1v1h-1zM1 11h1v1h-1zM1 12h1v1h-1zM1 13h1v1h-1zM1 14h1v1h-1zM1 15h1v1h-1zM1 16h1v1h-1zM1 17h1v1h-1zM1 18h1v1h-1zM1 19h1v1h-1zM1 20h2v1h-2zM1 21h2v1h-2zM1 22h3v1h-3zM1 23h4v1h-4zM2 24h4v1h-4zM2 25h4v1h-4zM29 25h1v1h-1zM0 26h7v1h-7zM27 26h3v1h-3zM0 27h8v1h-8zM26 27h4v1h-4zM0 28h10v1h-10zM24 28h6v1h-6zM0 29h13v1h-13zM22 29h8v1h-8z"/><path fill="#000098" d="M12 0h1v1h-1zM20 0h2v1h-2zM6 1h4v1h-4zM23 1h4v1h-4zM4 2h3v1h-3zM26 2h2v1h-2zM3 3h2v1h-2zM27 3h2v1h-2zM2 4h2v1h-2zM27 4h2v1h-2zM2 5h2v1h-2zM27 5h2v1h-2zM3 6h2v1h-2zM28 6h1v1h-1zM2 7h2v1h-2zM29 7h1v1h-1zM1 8h2v1h-2zM29 8h1v1h-1zM1 9h1v1h-1zM29 9h1v1h-1zM1 10h1v1h-1zM2 11h1v1h-1zM2 12h1v1h-1zM2 13h1v1h-1zM2 14h1v1h-1zM2 15h1v1h-1zM2 16h1v1h-1zM2 17h1v1h-1zM2 18h1v1h-1zM2 19h2v1h-2zM3 20h1v1h-1zM29 20h1v1h-1zM3 21h2v1h-2zM4 22h2v1h-2zM29 22h1v1h-1zM5 23h2v1h-2zM29 23h1v1h-1zM6 24h1v1h-1zM28 24h2v1h-2zM6 25h2v1h-2zM27 25h2v1h-2zM7 26h2v1h-2zM25 26h2v1h-2zM8 27h3v1h-3zM24 27h2v1h-2zM10 28h4v1h-4zM22 28h2v1h-2zM13 29h9v1h-9z"/><path fill="#0000a0" d="M13 0h2v1h-2zM19 0h1v1h-1zM10 1h3v1h-3zM21 1h2v1h-2zM7 2h2v1h-2zM24 2h2v1h-2zM5 3h2v1h-2zM25 3h2v1h-2zM4 4h1v1h-1zM26 4h1v1h-1zM4 5h1v1h-1zM26 5h1v1h-1zM5 6h2v1h-2zM27 6h1v1h-1zM4 7h1v1h-1zM28 7h1v1h-1zM3 8h1v1h-1zM28 8h1v1h-1zM2 9h1v1h-1zM2 10h1v1h-1zM29 10h1v1h-1zM3 16h1v1h-1zM3 17h1v1h-1zM3 18h1v1h-1zM29 19h1v1h-1zM4 20h1v1h-1zM5 21h1v1h-1zM29 21h1v1h-1zM6 22h1v1h-1zM28 22h1v1h-1zM7 23h1v1h-1zM28 23h1v1h-1zM7 24h1v1h-1zM27 24h1v1h-1zM8 25h1v1h-1zM26 25h1v1h-1zM9 26h1v1h-1zM24 26h1v1h-1zM11 27h2v1h-2zM22 27h2v1h-2zM14 28h2v1h-2zM20 28h2v1h-2z"/><path fill="#0000a8" d="M15 0h4v1h-4zM13 1h8v1h-8zM9 2h3v1h-3zM23 2h1v1h-1zM7 3h2v1h-2zM24 3h1v1h-1zM5 4h2v1h-2zM25 4h1v1h-1zM5 5h1v1h-1zM25 5h1v1h-1zM7 6h1v1h-1zM26 6h1v1h-1zM5 7h1v1h-1zM27 7h1v1h-1zM4 8h1v1h-1zM3 9h1v1h-1zM28 9h1v1h-1zM3 11h1v1h-1zM29 11h1v1h-1zM3 12h1v1h-1zM29 12h1v1h-1zM3 13h1v1h-1zM29 13h1v1h-1zM3 14h1v1h-1zM29 14h1v1h-1zM3 15h1v1h-1zM29 15h1v1h-1zM29 17h1v1h-1zM29 18h1v1h-1zM4 19h1v1h-1zM28 20h1v1h-1zM28 21h1v1h-1zM27 23h1v1h-1zM8 24h1v1h-1zM26 24h1v1h-1zM9 25h1v1h-1zM25 25h1v1h-1zM10 26h2v1h-2zM23 26h1v1h-1zM13 27h1v1h-1zM21 27h1v1h-1zM16 28h4v1h-4z"/><path fill="#0000b0" d="M12 2h2v1h-2zM21 2h2v1h-2zM9 3h2v1h-2zM23 3h1v1h-1zM7 4h2v1h-2zM24 4h1v1h-1zM6 5h1v1h-1zM24 5h1v1h-1zM8 6h1v1h-1zM25 6h1v1h-1zM6 7h1v1h-1zM26 7h1v1h-1zM5 8h1v1h-1zM27 8h1v1h-1zM4 9h1v1h-1zM3 10h1v1h-1zM28 10h1v1h-1zM29 16h1v1h-1zM4 18h1v1h-1zM28 19h1v1h-1zM5 20h1v1h-1zM6 21h1v1h-1zM7 22h1v1h-1zM27 22h1v1h-1zM8 23h1v1h-1zM26 23h1v1h-1zM9 24h1v1h-1zM25 24h1v1h-1zM10 25h1v1h-1zM24 25h1v1h-1zM12 26h1v1h-1zM14 27h1v1h-1zM20 27h1v1h-1z"/><path fill="#0000b8" d="M14 2h7v1h-7zM11 3h2v1h-2zM22 3h1v1h-1zM13 26h1v1h-1zM22 26h1v1h-1zM15 27h2v1h-2zM19 27h1v1h-1z"/><path fill="#0000c0" d="M13 3h2v1h-2zM21 3h1v1h-1zM9 4h2v1h-2zM23 4h1v1h-1zM7 5h1v1h-1zM23 5h1v1h-1zM9 6h1v1h-1zM24 6h1v1h-1zM7 7h1v1h-1zM27 9h1v1h-1zM4 10h1v1h-1zM28 11h1v1h-1zM4 17h1v1h-1zM28 18h1v1h-1zM7 21h1v1h-1zM27 21h1v1h-1zM8 22h1v1h-1zM24 24h1v1h-1zM23 25h1v1h-1zM21 26h1v1h-1zM17 27h2v1h-2z"/><path fill="#0000c8" d="M15 3h6v1h-6zM11 4h1v1h-1zM22 4h1v1h-1zM8 5h1v1h-1zM8 7h1v1h-1zM25 7h1v1h-1zM6 8h1v1h-1zM26 8h1v1h-1zM5 9h1v1h-1zM27 10h1v1h-1zM28 12h1v1h-1zM28 13h1v1h-1zM28 14h1v1h-1zM28 15h1v1h-1zM4 16h1v1h-1zM28 17h1v1h-1zM5 19h1v1h-1zM27 20h1v1h-1zM26 22h1v1h-1zM9 23h1v1h-1zM25 23h1v1h-1zM10 24h1v1h-1zM11 25h1v1h-1zM22 25h1v1h-1zM14 26h1v1h-1z"/><path fill="#0000d0" d="M12 4h1v1h-1zM9 5h1v1h-1zM22 5h1v1h-1zM10 6h1v1h-1zM5 10h1v1h-1zM4 11h1v1h-1zM4 12h1v1h-1zM4 13h1v1h-1zM4 14h1v1h-1zM4 15h1v1h-1zM28 16h1v1h-1zM8 21h1v1h-1zM26 21h1v1h-1zM23 24h1v1h-1zM15 26h1v1h-1zM20 26h1v1h-1z"/><path fill="#0000d8" d="M13 4h2v1h-2zM21 4h1v1h-1zM10 5h1v1h-1zM23 6h1v1h-1zM9 7h1v1h-1zM24 7h1v1h-1zM7 8h1v1h-1zM6 9h1v1h-1zM26 9h1v1h-1zM5 18h1v1h-1zM27 19h1v1h-1zM6 20h1v1h-1zM9 22h1v1h-1zM25 22h1v1h-1zM24 23h1v1h-1zM12 25h1v1h-1zM16 26h1v1h-1z"/><path fill="#0000e0" d="M17 26h3v1h-3z"/><path fill="#0000e8" d="M15 4h6v1h-6zM11 5h1v1h-1zM21 5h1v1h-1zM11 6h1v1h-1zM25 8h1v1h-1zM27 11h1v1h-1zM26 20h1v1h-1zM10 23h1v1h-1zM11 24h1v1h-1zM22 24h1v1h-1zM21 25h1v1h-1z"/><path fill="#0000f0" d="M12 5h1v1h-1zM20 5h1v1h-1zM22 6h1v1h-1zM27 12h1v1h-1zM5 17h1v1h-1zM27 18h1v1h-1zM25 21h1v1h-1zM13 25h1v1h-1z"/><path fill="#0000f8" d="M13 5h2v1h-2zM10 7h1v1h-1zM23 7h1v1h-1zM8 8h1v1h-1zM7 9h1v1h-1zM25 9h1v1h-1zM6 10h1v1h-1zM26 10h1v1h-1zM5 11h1v1h-1zM5 12h1v1h-1zM5 13h1v1h-1zM27 13h1v1h-1zM5 14h1v1h-1zM27 14h1v1h-1zM5 15h1v1h-1zM27 15h1v1h-1zM5 16h1v1h-1zM27 17h1v1h-1zM6 19h1v1h-1zM7 20h1v1h-1zM9 21h1v1h-1zM24 22h1v1h-1zM23 23h1v1h-1zM12 24h1v1h-1zM14 25h1v1h-1zM20 25h1v1h-1z"/><path fill="#0001ff" d="M15 5h5v1h-5z"/><path fill="#0009ff" d="M12 6h1v1h-1zM24 8h1v1h-1zM26 19h1v1h-1zM10 22h1v1h-1zM11 23h1v1h-1zM19 25h1v1h-1z"/><path fill="#0011ff" d="M21 6h1v1h-1zM9 8h1v1h-1zM7 10h1v1h-1zM26 11h1v1h-1zM27 16h1v1h-1zM6 18h1v1h-1zM25 20h1v1h-1zM22 23h1v1h-1zM13 24h1v1h-1zM21 24h1v1h-1zM15 25h4v1h-4z"/><path fill="#0019ff" d="M13 6h1v1h-1zM22 7h1v1h-1zM26 18h1v1h-1zM8 20h1v1h-1zM24 21h1v1h-1z"/><path fill="#0021ff" d="M14 6h1v1h-1zM20 6h1v1h-1zM11 7h1v1h-1zM8 9h1v1h-1zM25 10h1v1h-1zM26 12h1v1h-1zM6 17h1v1h-1zM7 19h1v1h-1zM11 22h1v1h-1zM23 22h1v1h-1zM14 24h1v1h-1z"/><path fill="#0031ff" d="M15 6h1v1h-1zM12 7h1v1h-1zM23 8h1v1h-1zM6 11h1v1h-1zM6 12h1v1h-1zM6 13h1v1h-1zM26 13h1v1h-1zM6 14h1v1h-1zM26 14h1v1h-1zM6 15h1v1h-1zM26 15h1v1h-1zM10 21h1v1h-1zM12 23h1v1h-1zM20 24h1v1h-1z"/><path fill="#0041ff" d="M16 6h4v1h-4zM24 9h1v1h-1zM6 16h1v1h-1zM26 17h1v1h-1zM13 23h1v1h-1z"/><path fill="#0049ff" d="M13 7h1v1h-1zM21 7h1v1h-1zM10 8h1v1h-1zM26 16h1v1h-1zM7 18h1v1h-1zM8 19h1v1h-1zM25 19h1v1h-1zM9 20h1v1h-1zM14 23h1v1h-1zM15 24h1v1h-1z"/><path fill="#0059ff" d="M8 10h1v1h-1zM25 11h1v1h-1zM24 20h1v1h-1zM23 21h1v1h-1zM22 22h1v1h-1zM16 24h4v1h-4z"/><path fill="#0061ff" d="M14 7h1v1h-1zM22 8h1v1h-1zM9 9h1v1h-1zM25 18h1v1h-1zM12 22h1v1h-1zM21 23h1v1h-1z"/><path fill="#0071ff" d="M15 7h1v1h-1zM20 7h1v1h-1zM11 8h1v1h-1zM23 9h1v1h-1zM7 11h1v1h-1zM7 12h1v1h-1zM7 13h1v1h-1zM7 14h1v1h-1zM7 15h1v1h-1zM7 17h1v1h-1zM8 18h1v1h-1zM10 20h1v1h-1zM11 21h1v1h-1zM13 22h1v1h-1z"/><path fill="#0082ff" d="M16 7h1v1h-1zM19 7h1v1h-1zM24 10h1v1h-1zM25 12h1v1h-1zM25 17h1v1h-1zM9 19h1v1h-1zM15 23h1v1h-1zM20 23h1v1h-1z"/><path fill="#008aff" d="M17 7h2v1h-2zM12 8h1v1h-1zM9 10h1v1h-1zM7 16h1v1h-1zM24 19h1v1h-1zM11 20h1v1h-1zM12 21h1v1h-1zM22 21h1v1h-1zM14 22h1v1h-1z"/><path fill="#0092ff" d="M10 9h1v1h-1zM25 13h1v1h-1zM25 14h1v1h-1zM25 15h1v1h-1zM10 19h1v1h-1zM23 20h1v1h-1zM21 22h1v1h-1zM16 23h1v1h-1zM19 23h1v1h-1z"/><path fill="#00aaff" d="M13 8h1v1h-1zM25 16h1v1h-1zM8 17h1v1h-1zM9 18h1v1h-1zM17 23h2v1h-2z"/><path fill="#00b2ff" d="M21 8h1v1h-1zM11 9h1v1h-1zM10 10h1v1h-1zM24 11h1v1h-1zM24 18h1v1h-1zM12 20h1v1h-1z"/><path fill="#00baff" d="M14 8h1v1h-1zM22 9h1v1h-1zM23 10h1v1h-1zM13 21h1v1h-1z"/><path fill="#00d2ff" d="M8 11h1v1h-1zM8 16h1v1h-1zM11 19h1v1h-1zM15 22h1v1h-1z"/><path fill="#00daff" d="M12 9h1v1h-1zM8 12h1v1h-1zM24 12h1v1h-1zM24 17h1v1h-1zM10 18h1v1h-1zM23 19h1v1h-1zM13 20h1v1h-1zM14 21h1v1h-1zM20 22h1v1h-1z"/><path fill="#00e2ff" d="M15 8h1v1h-1zM9 17h1v1h-1z"/><path fill="#00f2ff" d="M20 8h1v1h-1zM9 11h1v1h-1z"/><path fill="#00faff" d="M8 13h1v1h-1zM8 14h1v1h-1zM8 15h1v1h-1zM24 15h1v1h-1z"/><path fill="#03fffc" d="M16 8h1v1h-1zM19 8h1v1h-1zM11 10h1v1h-1zM24 13h1v1h-1zM24 14h1v1h-1zM11 18h1v1h-1zM12 19h2v1h-2zM22 20h1v1h-1zM15 21h1v1h-1zM21 21h1v1h-1zM16 22h2v1h-2zM19 22h1v1h-1z"/><path fill="#13ffec" d="M17 8h2v1h-2zM24 16h1v1h-1zM18 22h1v1h-1z"/><path fill="#1bffe4" d="M13 9h2v1h-2zM21 9h1v1h-1zM22 10h1v1h-1zM23 11h1v1h-1zM9 12h1v1h-1zM14 20h1v1h-1z"/><path fill="#23ffdc" d="M9 16h1v1h-1zM10 17h1v1h-1zM23 18h1v1h-1z"/><path fill="#2bffd4" d="M12 10h1v1h-1zM10 11h1v1h-1z"/><path fill="#43ffbc" d="M12 18h1v1h-1z"/><path fill="#4bffb4" d="M15 9h1v1h-1zM13 10h1v1h-1zM9 13h1v1h-1zM9 14h1v1h-1zM9 15h1v1h-1zM20 21h1v1h-1z"/><path fill="#53ffac" d="M23 12h1v1h-1zM11 17h1v1h-1zM13 18h1v1h-1zM14 19h1v1h-1zM22 19h1v1h-1zM15 20h1v1h-1z"/><path fill="#63ff9c" d="M11 11h1v1h-1zM10 12h1v1h-1zM23 17h1v1h-1zM21 20h1v1h-1zM16 21h1v1h-1z"/><path fill="#73ff8c" d="M16 9h1v1h-1zM20 9h1v1h-1z"/><path fill="#84ff7b" d="M14 10h1v1h-1zM10 15h1v1h-1zM10 16h1v1h-1zM12 17h1v1h-1z"/><path fill="#8cff73" d="M17 9h1v1h-1zM21 10h1v1h-1zM12 11h1v1h-1zM10 13h1v1h-1zM23 13h1v1h-1zM10 14h1v1h-1zM13 17h1v1h-1zM19 21h1v1h-1z"/><path fill="#9cff63" d="M13 11h1v1h-1zM22 11h1v1h-1zM11 12h1v1h-1zM23 15h1v1h-1zM23 16h1v1h-1zM14 18h1v1h-1zM17 21h1v1h-1z"/><path fill="#acff53" d="M18 9h2v1h-2zM23 14h1v1h-1zM22 18h1v1h-1zM15 19h1v1h-1zM16 20h1v1h-1zM18 21h1v1h-1z"/><path fill="#b4ff4b" d="M14 11h1v1h-1zM12 12h1v1h-1zM11 16h1v1h-1z"/><path fill="#bcff43" d="M15 10h1v1h-1zM13 12h1v1h-1zM11 13h1v1h-1zM11 14h1v1h-1zM11 15h1v1h-1zM12 16h2v1h-2z"/><path fill="#d4ff2b" d="M14 12h1v1h-1zM21 19h1v1h-1zM20 20h1v1h-1z"/><path fill="#dcff23" d="M15 11h1v1h-1zM22 12h1v1h-1zM12 13h1v1h-1zM12 14h1v1h-1zM12 15h2v1h-2zM14 17h1v1h-1z"/><path fill="#e4ff1b" d="M16 10h1v1h-1zM13 13h1v1h-1zM13 14h1v1h-1zM22 17h1v1h-1z"/><path fill="#ecff13" d="M14 16h1v1h-1zM15 18h1v1h-1zM17 20h1v1h-1z"/><path fill="#fcff03" d="M20 10h1v1h-1z"/><path fill="#fffa00" d="M14 13h1v1h-1zM14 14h1v1h-1zM14 15h1v1h-1z"/><path fill="#fff200" d="M17 10h1v1h-1zM21 11h1v1h-1zM16 19h1v1h-1zM18 20h2v1h-2z"/><path fill="#ffe200" d="M15 12h1v1h-1z"/><path fill="#ffda00" d="M16 11h1v1h-1zM22 13h1v1h-1zM22 16h1v1h-1zM15 17h1v1h-1zM21 18h1v1h-1z"/><path fill="#ffca00" d="M18 10h2v1h-2zM15 13h1v1h-1zM15 16h1v1h-1zM20 19h1v1h-1z"/><path fill="#ffba00" d="M15 14h1v1h-1zM15 15h1v1h-1z"/><path fill="#ffb200" d="M22 14h1v1h-1zM22 15h1v1h-1z"/><path fill="#ffaa00" d="M16 18h1v1h-1zM17 19h1v1h-1z"/><path fill="#ffa200" d="M17 11h1v1h-1zM20 11h1v1h-1zM16 12h1v1h-1zM21 12h1v1h-1z"/><path fill="#ff8a00" d="M21 17h1v1h-1zM18 19h2v1h-2z"/><path fill="#ff8200" d="M16 17h1v1h-1z"/><path fill="#ff7100" d="M16 13h1v1h-1zM16 16h1v1h-1zM20 18h1v1h-1z"/><path fill="#ff6900" d="M18 11h2v1h-2zM16 14h1v1h-1zM16 15h1v1h-1z"/><path fill="#ff5900" d="M21 13h1v1h-1z"/><path fill="#ff4900" d="M21 16h1v1h-1zM17 18h1v1h-1z"/><path fill="#ff4100" d="M17 12h1v1h-1z"/><path fill="#ff3100" d="M21 14h1v1h-1z"/><path fill="#ff2100" d="M20 12h1v1h-1zM21 15h1v1h-1zM17 17h1v1h-1zM18 18h2v1h-2z"/><path fill="#ff1100" d="M20 17h1v1h-1z"/><path fill="#ff0900" d="M17 16h1v1h-1z"/><path fill="#f80000" d="M17 13h1v1h-1z"/><path fill="#f00000" d="M18 12h2v1h-2z"/><path fill="#e80000" d="M20 13h1v1h-1zM17 14h1v1h-1z"/><path fill="#d80000" d="M17 15h1v1h-1zM20 16h1v1h-1zM18 17h2v1h-2z"/><path fill="#c00000" d="M18 13h1v1h-1zM20 14h1v1h-1z"/><path fill="#b00000" d="M19 13h1v1h-1zM20 15h1v1h-1zM18 16h1v1h-1z"/><path fill="#a80000" d="M19 16h1v1h-1z"/><path fill="#a00000" d="M18 14h1v1h-1z"/><path fill="#880000" d="M18 15h1v1h-1z"/><path fill="#800000" d="M19 14h1v1h-1zM19 15h1v1h-1z"/></g>
<rect x="511.5" y="344.5" width="249" height="249" fill="none" stroke="#0a0a30" stroke-width="1"/>
<g transform="translate(891 344) scale(8.33333 8.33333)" shape-rendering="crispEdges"><path fill="#000090" d="M0 0h13v1h-13zM24 0h6v1h-6zM0 1h9v1h-9zM25 1h5v1h-5zM0 2h7v1h-7zM25 2h5v1h-5zM0 3h5v1h-5zM26 3h4v1h-4zM0 4h3v1h-3zM26 4h4v1h-4zM0 5h2v1h-2zM27 5h3v1h-3zM0 6h1v1h-1zM27 6h3v1h-3zM27 7h3v1h-3zM28 8h2v1h-2zM28 9h2v1h-2zM28 10h2v1h-2zM28 11h2v1h-2zM28 12h2v1h-2zM28 13h2v1h-2zM28 14h2v1h-2zM28 15h2v1h-2zM28 16h2v1h-2zM28 17h2v1h-2zM28 18h2v1h-2zM28 19h2v1h-2zM28 20h2v1h-2zM28 21h2v1h-2zM27 22h3v1h-3zM0 23h1v1h-1zM27 23h3v1h-3zM0 24h2v1h-2zM27 24h3v1h-3zM0 25h2v1h-2zM27 25h3v1h-3zM0 26h3v1h-3zM26 26h4v1h-4zM0 27h5v1h-5zM26 27h4v1h-4zM0 28h6v1h-6zM26 28h4v1h-4zM0 29h7v1h-7zM25 29h5v1h-5z"/><path fill="#000098" d="M13 0h11v1h-11zM9 1h9v1h-9zM22 1h3v1h-3zM7 2h4v1h-4zM24 2h1v1h-1zM5 3h3v1h-3zM25 3h1v1h-1zM3 4h3v1h-3zM25 4h1v1h-1zM2 5h3v1h-3zM26 5h1v1h-1zM1 6h2v1h-2zM26 6h1v1h-1zM0 7h3v1h-3zM0 8h2v1h-2zM27 8h1v1h-1zM0 9h1v1h-1zM27 9h1v1h-1zM0 10h1v1h-1zM27 10h1v1h-1zM0 11h1v1h-1zM27 11h1v1h-1zM27 12h1v1h-1zM27 13h1v1h-1zM27 14h1v1h-1zM27 15h1v1h-1zM27 16h1v1h-1zM0 17h1v1h-1zM27 17h1v1h-1zM0 18h1v1h-1zM27 18h1v1h-1zM0 19h1v1h-1zM27 19h1v1h-1zM0 20h2v1h-2zM27 20h1v1h-1zM0 21h2v1h-2zM27 21h1v1h-1zM0 22h3v1h-3zM1 23h2v1h-2zM26 23h1v1h-1zM2 24h2v1h-2zM26 24h1v1h-1zM2 25h3v1h-3zM26 25h1v1h-1zM3 26h3v1h-3zM25 26h1v1h-1zM5 27h2v1h-2zM25 27h1v1h-1zM6 28h3v1h-3zM24 28h2v1h-2zM7 29h5v1h-5zM24 29h1v1h-1z"/><path fill="#0000a0" d="M18 1h4v1h-4zM11 2h7v1h-7zM22 2h2v1h-2zM8 3h3v1h-3zM24 3h1v1h-1zM6 4h2v1h-2zM5 5h2v1h-2zM25 5h1v1h-1zM3 6h1v1h-1zM26 7h1v1h-1zM2 8h1v1h-1zM26 8h1v1h-1zM1 9h2v1h-2zM1 10h1v1h-1zM1 11h1v1h-1zM0 12h2v1h-2zM0 13h1v1h-1zM0 14h1v1h-1zM0 15h1v1h-1zM0 16h2v1h-2zM1 17h1v1h-1zM1 18h1v1h-1zM1 19h1v1h-1zM2 20h1v1h-1zM26 20h1v1h-1zM2 21h1v1h-1zM26 21h1v1h-1zM3 22h1v1h-1zM26 22h1v1h-1zM3 23h1v1h-1zM4 24h1v1h-1zM25 24h1v1h-1zM5 25h1v1h-1zM25 25h1v1h-1zM6 26h2v1h-2zM7 27h2v1h-2zM24 27h1v1h-1zM9 28h4v1h-4zM23 28h1v1h-1zM12 29h12v1h-12z"/><path fill="#0000a8" d="M18 2h4v1h-4zM11 3h5v1h-5zM23 3h1v1h-1zM8 4h2v1h-2zM24 4h1v1h-1zM7 5h1v1h-1zM4 6h1v1h-1zM24 6h2v1h-2zM3 7h1v1h-1zM3 8h1v1h-1zM26 9h1v1h-1zM2 10h1v1h-1zM26 10h1v1h-1zM2 11h1v1h-1zM26 11h1v1h-1zM26 12h1v1h-1zM1 13h1v1h-1zM1 14h1v1h-1zM1 15h1v1h-1zM26 17h1v1h-1zM2 18h1v1h-1zM26 18h1v1h-1zM2 19h1v1h-1zM26 19h1v1h-1zM3 21h1v1h-1zM4 23h1v1h-1zM25 23h1v1h-1zM5 24h1v1h-1zM6 25h1v1h-1zM24 25h1v1h-1zM8 26h1v1h-1zM24 26h1v1h-1zM9 27h3v1h-3zM23 27h1v1h-1zM13 28h10v1h-10z"/><path fill="#0000b0" d="M16 3h7v1h-7zM10 4h2v1h-2zM23 4h1v1h-1zM8 5h1v1h-1zM24 5h1v1h-1zM5 6h2v1h-2zM23 6h1v1h-1zM4 7h1v1h-1zM25 7h1v1h-1zM25 8h1v1h-1zM3 9h1v1h-1zM2 12h1v1h-1zM2 13h1v1h-1zM26 13h1v1h-1zM2 14h1v1h-1zM26 14h1v1h-1zM2 15h1v1h-1zM26 15h1v1h-1zM2 16h1v1h-1zM26 16h1v1h-1zM2 17h2v1h-2zM3 18h1v1h-1zM3 20h1v1h-1zM4 21h1v1h-1zM25 21h1v1h-1zM4 22h1v1h-1zM25 22h1v1h-1zM5 23h1v1h-1zM24 23h1v1h-1zM6 24h1v1h-1zM24 24h1v1h-1zM7 25h1v1h-1zM9 26h1v1h-1zM23 26h1v1h-1zM12 27h6v1h-6zM22 27h1v1h-1z"/><path fill="#0000b8" d="M12 4h6v1h-6zM22 4h1v1h-1zM9 5h1v1h-1zM23 5h1v1h-1zM3 19h1v1h-1zM8 25h1v1h-1zM23 25h1v1h-1zM10 26h2v1h-2zM22 26h1v1h-1zM18 27h4v1h-4z"/><path fill="#0000c0" d="M18 4h4v1h-4zM10 5h1v1h-1zM7 6h2v1h-2zM5 7h1v1h-1zM24 7h1v1h-1zM4 8h1v1h-1zM25 9h1v1h-1zM3 10h1v1h-1zM25 10h1v1h-1zM3 11h1v1h-1zM3 12h1v1h-1zM3 13h1v1h-1zM3 15h1v1h-1zM3 16h1v1h-1zM25 19h1v1h-1zM4 20h1v1h-1zM25 20h1v1h-1zM5 22h1v1h-1zM24 22h1v1h-1zM7 24h1v1h-1zM9 25h1v1h-1zM12 26h10v1h-10z"/><path fill="#0000c8" d="M11 5h6v1h-6zM22 5h1v1h-1zM22 6h1v1h-1zM6 7h1v1h-1zM24 8h1v1h-1zM4 9h1v1h-1zM25 11h1v1h-1zM25 12h1v1h-1zM25 13h1v1h-1zM3 14h1v1h-1zM25 17h1v1h-1zM25 18h1v1h-1zM4 19h1v1h-1zM5 21h1v1h-1zM6 23h1v1h-1zM23 23h1v1h-1zM23 24h1v1h-1zM22 25h1v1h-1z"/><path fill="#0000d0" d="M17 5h5v1h-5zM21 6h1v1h-1zM7 7h1v1h-1zM23 7h1v1h-1zM5 8h1v1h-1zM24 9h1v1h-1zM4 10h1v1h-1zM25 14h1v1h-1zM25 15h1v1h-1zM25 16h1v1h-1zM4 18h1v1h-1zM24 21h1v1h-1zM6 22h1v1h-1zM8 24h1v1h-1zM10 25h1v1h-1zM15 25h2v1h-2zM21 25h1v1h-1z"/><path fill="#0000d8" d="M9 6h1v1h-1zM15 6h3v1h-3zM20 6h1v1h-1zM4 11h1v1h-1zM4 12h1v1h-1zM4 17h1v1h-1zM5 20h1v1h-1zM11 25h4v1h-4zM17 25h4v1h-4z"/><path fill="#0000e0" d="M9 24h1v1h-1zM22 24h1v1h-1z"/><path fill="#0000e8" d="M10 6h1v1h-1zM13 6h2v1h-2zM18 6h2v1h-2zM8 7h1v1h-1zM22 7h1v1h-1zM6 8h1v1h-1zM23 8h1v1h-1zM5 9h1v1h-1zM24 10h1v1h-1zM4 13h1v1h-1zM4 15h1v1h-1zM4 16h1v1h-1zM24 20h1v1h-1zM23 22h1v1h-1zM22 23h1v1h-1zM21 24h1v1h-1z"/><path fill="#0000f0" d="M11 6h2v1h-2zM21 7h1v1h-1zM7 8h1v1h-1zM4 14h1v1h-1zM5 19h1v1h-1zM6 21h1v1h-1zM7 23h1v1h-1zM10 24h1v1h-1zM15 24h6v1h-6z"/><path fill="#0000f8" d="M9 7h1v1h-1zM15 7h6v1h-6zM22 8h1v1h-1zM6 9h1v1h-1zM23 9h1v1h-1zM5 10h1v1h-1zM24 11h1v1h-1zM24 12h1v1h-1zM24 19h1v1h-1zM23 21h1v1h-1zM7 22h1v1h-1zM21 23h1v1h-1zM11 24h1v1h-1zM14 24h1v1h-1z"/><path fill="#0001ff" d="M12 24h2v1h-2z"/><path fill="#0009ff" d="M10 7h1v1h-1zM14 7h1v1h-1zM8 8h1v1h-1zM5 18h1v1h-1zM6 20h1v1h-1zM22 22h1v1h-1z"/><path fill="#0011ff" d="M13 7h1v1h-1zM16 8h2v1h-2zM21 8h1v1h-1zM7 9h1v1h-1zM23 10h1v1h-1zM5 11h1v1h-1zM5 12h1v1h-1zM24 13h1v1h-1zM5 17h1v1h-1zM24 17h1v1h-1zM24 18h1v1h-1zM23 20h1v1h-1zM7 21h1v1h-1zM8 23h1v1h-1zM20 23h1v1h-1z"/><path fill="#0019ff" d="M11 7h2v1h-2zM18 8h1v1h-1zM22 9h1v1h-1zM5 13h1v1h-1zM24 14h1v1h-1zM5 15h1v1h-1zM24 15h1v1h-1zM5 16h1v1h-1zM24 16h1v1h-1zM15 23h5v1h-5z"/><path fill="#0021ff" d="M9 8h1v1h-1zM15 8h1v1h-1zM20 8h1v1h-1zM6 10h1v1h-1zM5 14h1v1h-1zM22 21h1v1h-1zM21 22h1v1h-1zM14 23h1v1h-1z"/><path fill="#0031ff" d="M19 8h1v1h-1zM8 9h1v1h-1zM16 9h2v1h-2zM23 11h1v1h-1zM6 19h1v1h-1zM23 19h1v1h-1zM8 22h1v1h-1zM9 23h1v1h-1z"/><path fill="#0041ff" d="M18 9h1v1h-1zM21 9h1v1h-1zM10 23h1v1h-1zM13 23h1v1h-1z"/><path fill="#0049ff" d="M10 8h1v1h-1zM14 8h1v1h-1zM15 9h1v1h-1zM19 9h2v1h-2zM22 10h1v1h-1zM23 12h1v1h-1zM16 22h2v1h-2zM20 22h1v1h-1zM11 23h2v1h-2z"/><path fill="#0059ff" d="M6 11h1v1h-1zM23 13h1v1h-1zM23 17h1v1h-1zM23 18h1v1h-1zM7 20h1v1h-1zM22 20h1v1h-1zM21 21h1v1h-1zM15 22h1v1h-1zM18 22h2v1h-2z"/><path fill="#0061ff" d="M9 9h1v1h-1zM7 10h1v1h-1zM17 10h1v1h-1zM6 12h1v1h-1zM23 14h1v1h-1zM23 15h1v1h-1zM23 16h1v1h-1zM6 18h1v1h-1zM8 21h1v1h-1zM9 22h1v1h-1zM14 22h1v1h-1z"/><path fill="#0071ff" d="M11 8h1v1h-1zM13 8h1v1h-1zM16 10h1v1h-1zM18 10h1v1h-1zM13 22h1v1h-1z"/><path fill="#0082ff" d="M12 8h1v1h-1zM14 9h1v1h-1zM19 10h1v1h-1zM21 10h1v1h-1zM22 11h1v1h-1zM6 13h1v1h-1zM6 17h1v1h-1zM22 19h1v1h-1zM16 21h2v1h-2zM20 21h1v1h-1zM10 22h1v1h-1z"/><path fill="#008aff" d="M20 10h1v1h-1zM6 16h1v1h-1zM18 21h2v1h-2zM11 22h2v1h-2z"/><path fill="#0092ff" d="M10 9h1v1h-1zM8 10h1v1h-1zM7 11h1v1h-1zM6 14h1v1h-1zM6 15h1v1h-1zM7 19h1v1h-1zM21 20h1v1h-1zM15 21h1v1h-1z"/><path fill="#00aaff" d="M15 10h1v1h-1zM17 11h2v1h-2zM22 12h1v1h-1zM9 21h1v1h-1z"/><path fill="#00b2ff" d="M13 9h1v1h-1zM19 11h1v1h-1zM21 11h1v1h-1zM22 13h1v1h-1zM22 14h1v1h-1zM22 18h1v1h-1zM8 20h1v1h-1zM20 20h1v1h-1zM14 21h1v1h-1z"/><path fill="#00baff" d="M11 9h1v1h-1zM16 11h1v1h-1zM20 11h1v1h-1zM22 17h1v1h-1zM17 20h3v1h-3z"/><path fill="#00d2ff" d="M12 9h1v1h-1zM22 15h1v1h-1zM22 16h1v1h-1zM21 19h1v1h-1zM16 20h1v1h-1zM13 21h1v1h-1z"/><path fill="#00daff" d="M7 12h1v1h-1zM17 12h2v1h-2zM7 18h1v1h-1zM10 21h1v1h-1z"/><path fill="#00e2ff" d="M8 11h1v1h-1zM19 12h1v1h-1zM21 12h1v1h-1z"/><path fill="#00f2ff" d="M20 12h1v1h-1zM20 19h1v1h-1zM15 20h1v1h-1zM11 21h2v1h-2z"/><path fill="#03fffc" d="M9 10h1v1h-1zM14 10h1v1h-1zM15 11h1v1h-1zM16 12h1v1h-1zM7 17h1v1h-1zM21 18h1v1h-1zM8 19h1v1h-1zM17 19h3v1h-3zM9 20h1v1h-1z"/><path fill="#13ffec" d="M21 13h1v1h-1zM14 20h1v1h-1z"/><path fill="#1bffe4" d="M7 13h1v1h-1zM21 14h1v1h-1zM21 17h1v1h-1zM16 19h1v1h-1z"/><path fill="#2bffd4" d="M10 10h1v1h-1zM13 10h1v1h-1zM17 13h2v1h-2zM20 13h1v1h-1zM21 15h1v1h-1zM21 16h1v1h-1zM10 20h1v1h-1z"/><path fill="#43ffbc" d="M19 13h1v1h-1zM13 20h1v1h-1z"/><path fill="#4bffb4" d="M16 13h1v1h-1zM7 14h1v1h-1zM7 16h1v1h-1zM20 18h1v1h-1zM15 19h1v1h-1z"/><path fill="#53ffac" d="M11 10h2v1h-2zM14 11h1v1h-1zM15 12h1v1h-1zM7 15h1v1h-1zM17 18h3v1h-3zM11 20h2v1h-2z"/><path fill="#63ff9c" d="M9 11h1v1h-1zM20 14h1v1h-1zM20 17h1v1h-1z"/><path fill="#73ff8c" d="M8 12h1v1h-1zM17 14h3v1h-3zM20 15h1v1h-1zM20 16h1v1h-1zM18 17h2v1h-2zM8 18h1v1h-1z"/><path fill="#84ff7b" d="M18 15h2v1h-2zM17 16h3v1h-3zM17 17h1v1h-1zM16 18h1v1h-1z"/><path fill="#8cff73" d="M16 14h1v1h-1zM17 15h1v1h-1z"/><path fill="#9cff63" d="M15 13h1v1h-1zM8 17h1v1h-1zM9 19h1v1h-1zM14 19h1v1h-1z"/><path fill="#acff53" d="M13 11h1v1h-1zM8 13h1v1h-1z"/><path fill="#b4ff4b" d="M10 11h1v1h-1zM16 17h1v1h-1z"/><path fill="#bcff43" d="M14 12h1v1h-1zM16 15h1v1h-1zM16 16h1v1h-1z"/><path fill="#d4ff2b" d="M9 12h1v1h-1zM15 18h1v1h-1z"/><path fill="#e4ff1b" d="M11 11h2v1h-2zM8 14h1v1h-1zM8 15h1v1h-1zM8 16h1v1h-1zM9 18h1v1h-1zM13 19h1v1h-1z"/><path fill="#fcff03" d="M15 14h1v1h-1zM10 19h1v1h-1z"/><path fill="#fffa00" d="M15 17h1v1h-1z"/><path fill="#fff200" d="M11 19h2v1h-2z"/><path fill="#ffe200" d="M14 18h1v1h-1z"/><path fill="#ffda00" d="M15 15h1v1h-1z"/><path fill="#ffd200" d="M15 16h1v1h-1z"/><path fill="#ffca00" d="M10 12h1v1h-1zM13 12h1v1h-1zM14 13h1v1h-1z"/><path fill="#ffba00" d="M9 13h1v1h-1zM9 17h1v1h-1z"/><path fill="#ffb200" d="M10 18h1v1h-1z"/><path fill="#ffa200" d="M11 12h2v1h-2zM13 18h1v1h-1z"/><path fill="#ff8a00" d="M14 14h1v1h-1zM14 17h1v1h-1z"/><path fill="#ff8200" d="M9 14h1v1h-1z"/><path fill="#ff7100" d="M9 16h1v1h-1z"/><path fill="#ff6900" d="M9 15h1v1h-1zM14 15h1v1h-1zM14 16h1v1h-1zM11 18h2v1h-2z"/><path fill="#ff4900" d="M10 13h1v1h-1zM13 13h1v1h-1z"/><path fill="#ff4100" d="M10 17h1v1h-1z"/><path fill="#ff2100" d="M13 17h1v1h-1z"/><path fill="#ff0900" d="M11 13h2v1h-2zM11 17h2v1h-2z"/><path fill="#f80000" d="M10 14h1v1h-1zM13 14h1v1h-1z"/><path fill="#e80000" d="M10 16h1v1h-1z"/><path fill="#d80000" d="M13 16h1v1h-1z"/><path fill="#c80000" d="M10 15h1v1h-1zM13 15h1v1h-1z"/><path fill="#a00000" d="M11 14h2v1h-2zM11 16h2v1h-2z"/><path fill="#800000" d="M11 15h2v1h-2z"/></g>
<path d="M891.5 344V593.5H1140.5V344" fill="none" stroke="#0a0a30" stroke-width="1"/>
<g transform="translate(131 648) scale(8.33333 8.30000)" shape-rendering="crispEdges"><path fill="#000090" d="M0 0h30v1h-30zM0 1h30v1h-30zM0 2h13v1h-13zM16 2h14v1h-14zM0 3h10v1h-10zM19 3h11v1h-11zM0 4h9v1h-9zM21 4h9v1h-9zM0 5h8v1h-8zM22 5h8v1h-8zM0 6h7v1h-7zM23 6h7v1h-7zM0 7h6v1h-6zM23 7h7v1h-7zM0 8h5v1h-5zM24 8h6v1h-6zM0 9h5v1h-5zM24 9h6v1h-6zM0 10h4v1h-4zM25 10h5v1h-5zM0 11h4v1h-4zM25 11h5v1h-5zM0 12h4v1h-4zM25 12h5v1h-5zM0 13h4v1h-4zM25 13h5v1h-5zM0 14h4v1h-4zM25 14h5v1h-5zM0 15h4v1h-4zM25 15h5v1h-5zM0 16h4v1h-4zM25 16h5v1h-5zM0 17h4v1h-4zM25 17h5v1h-5zM0 18h5v1h-5zM24 18h6v1h-6zM0 19h5v1h-5zM24 19h6v1h-6zM0 20h6v1h-6zM24 20h6v1h-6zM0 21h6v1h-6zM23 21h7v1h-7zM0 22h7v1h-7zM22 22h8v1h-8zM0 23h8v1h-8zM22 23h8v1h-8zM0 24h9v1h-9zM21 24h9v1h-9zM0 25h10v1h-10zM20 25h10v1h-10zM0 26h12v1h-12zM18 26h12v1h-12zM0 27h30v1h-30zM0 28h30v1h-30zM0 29h30v1h-30z"/><path fill="#000098" d="M13 2h3v1h-3zM10 3h3v1h-3zM16 3h3v1h-3zM9 4h1v1h-1zM19 4h2v1h-2zM8 5h1v1h-1zM21 5h1v1h-1zM7 6h1v1h-1zM22 6h1v1h-1zM6 7h1v1h-1zM22 7h1v1h-1zM5 8h1v1h-1zM23 8h1v1h-1zM5 9h1v1h-1zM23 9h1v1h-1zM4 10h1v1h-1zM24 10h1v1h-1zM4 11h1v1h-1zM24 11h1v1h-1zM4 12h1v1h-1zM24 12h1v1h-1zM4 13h1v1h-1zM24 13h1v1h-1zM4 14h1v1h-1zM24 14h1v1h-1zM4 15h1v1h-1zM24 15h1v1h-1zM4 16h1v1h-1zM24 16h1v1h-1zM4 17h1v1h-1zM24 17h1v1h-1zM5 18h1v1h-1zM5 19h1v1h-1zM23 19h1v1h-1zM6 20h1v1h-1zM23 20h1v1h-1zM6 21h1v1h-1zM22 21h1v1h-1zM7 22h1v1h-1zM21 22h1v1h-1zM8 23h1v1h-1zM20 23h2v1h-2zM9 24h1v1h-1zM19 24h2v1h-2zM10 25h2v1h-2zM17 25h3v1h-3zM12 26h6v1h-6z"/><path fill="#0000a0" d="M13 3h3v1h-3zM10 4h2v1h-2zM18 4h1v1h-1zM9 5h1v1h-1zM20 5h1v1h-1zM8 6h1v1h-1zM21 6h1v1h-1zM7 7h1v1h-1zM6 8h1v1h-1zM22 8h1v1h-1zM5 10h1v1h-1zM23 10h1v1h-1zM5 11h1v1h-1zM5 16h1v1h-1zM5 17h1v1h-1zM23 17h1v1h-1zM23 18h1v1h-1zM6 19h1v1h-1zM22 20h1v1h-1zM7 21h1v1h-1zM21 21h1v1h-1zM8 22h1v1h-1zM9 23h1v1h-1zM10 24h1v1h-1zM18 24h1v1h-1zM12 25h5v1h-5z"/><path fill="#0000a8" d="M12 4h1v1h-1zM16 4h2v1h-2zM19 5h1v1h-1zM20 6h1v1h-1zM21 7h1v1h-1zM6 9h1v1h-1zM23 11h1v1h-1zM5 12h1v1h-1zM23 12h1v1h-1zM5 13h1v1h-1zM5 14h1v1h-1zM5 15h1v1h-1zM23 15h1v1h-1zM23 16h1v1h-1zM6 18h1v1h-1zM22 19h1v1h-1zM7 20h1v1h-1zM20 22h1v1h-1zM10 23h1v1h-1zM19 23h1v1h-1zM11 24h2v1h-2zM17 24h1v1h-1z"/><path fill="#0000b0" d="M13 4h3v1h-3zM10 5h1v1h-1zM18 5h1v1h-1zM9 6h1v1h-1zM8 7h1v1h-1zM7 8h1v1h-1zM22 9h1v1h-1zM6 10h1v1h-1zM23 13h1v1h-1zM23 14h1v1h-1zM6 17h1v1h-1zM22 18h1v1h-1zM21 20h1v1h-1zM8 21h1v1h-1zM20 21h1v1h-1zM9 22h1v1h-1zM18 23h1v1h-1zM13 24h4v1h-4z"/><path fill="#0000b8" d="M11 5h1v1h-1zM19 6h1v1h-1zM20 7h1v1h-1zM21 8h1v1h-1zM22 10h1v1h-1zM6 11h1v1h-1zM6 16h1v1h-1zM22 17h1v1h-1zM7 19h1v1h-1zM19 22h1v1h-1zM11 23h1v1h-1zM17 23h1v1h-1z"/><path fill="#0000c0" d="M12 5h1v1h-1zM17 5h1v1h-1zM7 9h1v1h-1zM6 12h1v1h-1zM6 15h1v1h-1zM22 16h1v1h-1zM7 18h1v1h-1zM21 19h1v1h-1zM8 20h1v1h-1zM9 21h1v1h-1zM10 22h1v1h-1zM12 23h1v1h-1z"/><path fill="#0000c8" d="M16 5h1v1h-1zM10 6h1v1h-1zM8 8h1v1h-1zM21 9h1v1h-1zM22 11h1v1h-1zM6 13h1v1h-1zM6 14h1v1h-1zM22 15h1v1h-1zM20 20h1v1h-1zM19 21h1v1h-1zM18 22h1v1h-1zM13 23h1v1h-1zM16 23h1v1h-1z"/><path fill="#0000d0" d="M13 5h3v1h-3zM18 6h1v1h-1zM9 7h1v1h-1zM7 10h1v1h-1zM22 12h1v1h-1zM22 13h1v1h-1zM22 14h1v1h-1zM7 17h1v1h-1zM21 18h1v1h-1zM8 19h1v1h-1zM11 22h1v1h-1zM14 23h2v1h-2z"/><path fill="#0000d8" d="M11 6h1v1h-1zM19 7h1v1h-1zM20 8h1v1h-1zM17 22h1v1h-1z"/><path fill="#0000e0" d="M17 6h1v1h-1zM21 10h1v1h-1zM7 16h1v1h-1zM21 17h1v1h-1zM20 19h1v1h-1zM9 20h1v1h-1zM10 21h1v1h-1z"/><path fill="#0000e8" d="M10 7h1v1h-1zM8 9h1v1h-1zM7 11h1v1h-1zM19 20h1v1h-1zM18 21h1v1h-1zM12 22h1v1h-1zM16 22h1v1h-1z"/><path fill="#0000f0" d="M12 6h1v1h-1zM9 8h1v1h-1zM7 15h1v1h-1zM8 18h1v1h-1zM13 22h1v1h-1z"/><path fill="#0000f8" d="M16 6h1v1h-1zM18 7h1v1h-1zM20 9h1v1h-1zM21 11h1v1h-1zM7 12h1v1h-1zM7 14h1v1h-1zM21 16h1v1h-1zM11 21h1v1h-1zM14 22h2v1h-2z"/><path fill="#0001ff" d="M13 6h1v1h-1zM15 6h1v1h-1zM19 8h1v1h-1zM7 13h1v1h-1zM20 18h1v1h-1zM9 19h1v1h-1zM10 20h1v1h-1z"/><path fill="#0009ff" d="M14 6h1v1h-1zM8 10h1v1h-1zM21 12h1v1h-1zM21 15h1v1h-1zM8 17h1v1h-1zM17 21h1v1h-1z"/><path fill="#0011ff" d="M11 7h1v1h-1zM21 13h1v1h-1zM21 14h1v1h-1zM19 19h1v1h-1z"/><path fill="#0019ff" d="M18 20h1v1h-1zM12 21h1v1h-1z"/><path fill="#0021ff" d="M17 7h1v1h-1zM10 8h1v1h-1zM9 9h1v1h-1zM20 10h1v1h-1zM8 16h1v1h-1zM20 17h1v1h-1zM16 21h1v1h-1z"/><path fill="#0029ff" d="M8 11h1v1h-1zM9 18h1v1h-1zM13 21h1v1h-1z"/><path fill="#0031ff" d="M12 7h1v1h-1zM11 20h1v1h-1zM15 21h1v1h-1z"/><path fill="#0039ff" d="M18 8h1v1h-1zM19 9h1v1h-1zM10 19h1v1h-1zM14 21h1v1h-1z"/><path fill="#0041ff" d="M16 7h1v1h-1zM8 12h1v1h-1zM8 15h1v1h-1zM20 16h1v1h-1zM19 18h1v1h-1zM17 20h1v1h-1z"/><path fill="#0049ff" d="M13 7h1v1h-1zM20 11h1v1h-1z"/><path fill="#0051ff" d="M15 7h1v1h-1zM9 10h1v1h-1zM8 13h1v1h-1zM8 14h1v1h-1zM18 19h1v1h-1z"/><path fill="#0059ff" d="M14 7h1v1h-1zM11 8h1v1h-1zM9 17h1v1h-1zM12 20h1v1h-1z"/><path fill="#0061ff" d="M20 15h1v1h-1z"/><path fill="#0069ff" d="M10 9h1v1h-1zM20 12h1v1h-1zM16 20h1v1h-1z"/><path fill="#0071ff" d="M17 8h1v1h-1zM20 14h1v1h-1zM10 18h1v1h-1z"/><path fill="#0079ff" d="M19 10h1v1h-1zM20 13h1v1h-1zM19 17h1v1h-1zM11 19h1v1h-1zM13 20h1v1h-1z"/><path fill="#0082ff" d="M9 16h1v1h-1z"/><path fill="#008aff" d="M18 9h1v1h-1zM9 11h1v1h-1zM14 20h2v1h-2z"/><path fill="#0092ff" d="M12 8h1v1h-1zM17 19h1v1h-1z"/><path fill="#009aff" d="M18 18h1v1h-1z"/><path fill="#00a2ff" d="M16 8h1v1h-1z"/><path fill="#00aaff" d="M9 15h1v1h-1zM19 16h1v1h-1z"/><path fill="#00b2ff" d="M10 10h1v1h-1zM19 11h1v1h-1zM9 12h1v1h-1zM12 19h1v1h-1z"/><path fill="#00baff" d="M13 8h1v1h-1zM11 9h1v1h-1zM10 17h1v1h-1z"/><path fill="#00c2ff" d="M15 8h1v1h-1zM9 14h1v1h-1z"/><path fill="#00caff" d="M14 8h1v1h-1zM9 13h1v1h-1zM11 18h1v1h-1zM16 19h1v1h-1z"/><path fill="#00daff" d="M17 9h1v1h-1zM19 15h1v1h-1z"/><path fill="#00e2ff" d="M18 10h1v1h-1zM18 17h1v1h-1zM13 19h1v1h-1z"/><path fill="#00eaff" d="M19 12h1v1h-1z"/><path fill="#00f2ff" d="M17 18h1v1h-1zM15 19h1v1h-1z"/><path fill="#00faff" d="M19 14h1v1h-1zM10 16h1v1h-1zM14 19h1v1h-1z"/><path fill="#03fffc" d="M12 9h1v1h-1zM10 11h1v1h-1zM19 13h1v1h-1z"/><path fill="#1bffe4" d="M12 18h1v1h-1z"/><path fill="#23ffdc" d="M16 9h1v1h-1zM11 10h1v1h-1zM11 17h1v1h-1z"/><path fill="#33ffcc" d="M10 15h1v1h-1zM18 16h1v1h-1z"/><path fill="#3bffc4" d="M18 11h1v1h-1zM16 18h1v1h-1z"/><path fill="#43ffbc" d="M13 9h1v1h-1zM10 12h1v1h-1z"/><path fill="#53ffac" d="M15 9h1v1h-1zM17 10h1v1h-1zM17 17h1v1h-1z"/><path fill="#5bffa4" d="M14 9h1v1h-1zM10 14h1v1h-1zM13 18h1v1h-1z"/><path fill="#6bff94" d="M10 13h1v1h-1z"/><path fill="#73ff8c" d="M18 15h1v1h-1zM15 18h1v1h-1z"/><path fill="#7bff84" d="M14 18h1v1h-1z"/><path fill="#84ff7b" d="M18 12h1v1h-1zM11 16h1v1h-1z"/><path fill="#8cff73" d="M12 10h1v1h-1zM11 11h1v1h-1z"/><path fill="#94ff6b" d="M12 17h1v1h-1z"/><path fill="#a4ff5b" d="M18 14h1v1h-1z"/><path fill="#acff53" d="M18 13h1v1h-1z"/><path fill="#b4ff4b" d="M16 10h1v1h-1z"/><path fill="#bcff43" d="M17 16h1v1h-1zM16 17h1v1h-1z"/><path fill="#ccff33" d="M17 11h1v1h-1z"/><path fill="#d4ff2b" d="M11 15h1v1h-1z"/><path fill="#dcff23" d="M13 10h1v1h-1z"/><path fill="#e4ff1b" d="M11 12h1v1h-1zM13 17h1v1h-1z"/><path fill="#f4ff0b" d="M15 10h1v1h-1z"/><path fill="#fcff03" d="M15 17h1v1h-1z"/><path fill="#fffa00" d="M14 10h1v1h-1zM12 16h1v1h-1z"/><path fill="#fff200" d="M11 14h1v1h-1zM14 17h1v1h-1z"/><path fill="#ffea00" d="M12 11h1v1h-1zM11 13h1v1h-1zM17 15h1v1h-1z"/><path fill="#ffd200" d="M17 12h1v1h-1z"/><path fill="#ffc200" d="M16 16h1v1h-1z"/><path fill="#ffb200" d="M16 11h1v1h-1z"/><path fill="#ffaa00" d="M17 14h1v1h-1z"/><path fill="#ff9a00" d="M17 13h1v1h-1zM12 15h1v1h-1zM13 16h1v1h-1z"/><path fill="#ff8200" d="M13 11h1v1h-1z"/><path fill="#ff7900" d="M12 12h1v1h-1zM15 16h1v1h-1z"/><path fill="#ff6900" d="M14 16h1v1h-1z"/><path fill="#ff6100" d="M15 11h1v1h-1z"/><path fill="#ff5900" d="M16 15h1v1h-1z"/><path fill="#ff5100" d="M14 11h1v1h-1zM12 14h1v1h-1z"/><path fill="#ff4100" d="M12 13h1v1h-1z"/><path fill="#ff3900" d="M16 12h1v1h-1z"/><path fill="#ff2100" d="M13 15h1v1h-1z"/><path fill="#ff1100" d="M16 14h1v1h-1z"/><path fill="#ff0100" d="M13 12h1v1h-1zM15 15h1v1h-1z"/><path fill="#f80000" d="M16 13h1v1h-1z"/><path fill="#e80000" d="M14 15h1v1h-1z"/><path fill="#d80000" d="M15 12h1v1h-1z"/><path fill="#d00000" d="M13 14h1v1h-1z"/><path fill="#c80000" d="M14 12h1v1h-1z"/><path fill="#c00000" d="M13 13h1v1h-1z"/><path fill="#a80000" d="M15 14h1v1h-1z"/><path fill="#980000" d="M15 13h1v1h-1zM14 14h1v1h-1z"/><path fill="#800000" d="M14 13h1v1h-1z"/></g>
<rect x="131.5" y="648.5" width="249" height="248" fill="none" stroke="#0a0a30" stroke-width="1"/>
<g transform="translate(511 648) scale(8.33333 8.30000)" shape-rendering="crispEdges"><path fill="#000090" d="M0 0h30v1h-30zM0 1h30v1h-30zM0 2h30v1h-30zM0 3h11v1h-11zM19 3h11v1h-11zM0 4h9v1h-9zM20 4h10v1h-10zM0 5h8v1h-8zM22 5h8v1h-8zM0 6h7v1h-7zM22 6h8v1h-8zM0 7h7v1h-7zM23 7h7v1h-7zM0 8h6v1h-6zM24 8h6v1h-6zM0 9h5v1h-5zM24 9h6v1h-6zM0 10h5v1h-5zM25 10h5v1h-5zM0 11h5v1h-5zM25 11h5v1h-5zM0 12h4v1h-4zM25 12h5v1h-5zM0 13h4v1h-4zM25 13h5v1h-5zM0 14h4v1h-4zM26 14h4v1h-4zM0 15h4v1h-4zM26 15h4v1h-4zM0 16h4v1h-4zM25 16h5v1h-5zM0 17h5v1h-5zM25 17h5v1h-5zM0 18h5v1h-5zM25 18h5v1h-5zM0 19h5v1h-5zM25 19h5v1h-5zM0 20h5v1h-5zM24 20h6v1h-6zM0 21h6v1h-6zM24 21h6v1h-6zM0 22h6v1h-6zM23 22h7v1h-7zM0 23h7v1h-7zM23 23h7v1h-7zM0 24h8v1h-8zM22 24h8v1h-8zM0 25h9v1h-9zM21 25h9v1h-9zM0 26h10v1h-10zM19 26h11v1h-11zM0 27h13v1h-13zM17 27h13v1h-13zM0 28h30v1h-30zM0 29h30v1h-30z"/><path fill="#000098" d="M11 3h8v1h-8zM9 4h2v1h-2zM19 4h1v1h-1zM8 5h2v1h-2zM20 5h2v1h-2zM7 6h1v1h-1zM21 6h1v1h-1zM7 7h1v1h-1zM22 7h1v1h-1zM6 8h1v1h-1zM23 8h1v1h-1zM5 9h1v1h-1zM23 9h1v1h-1zM5 10h1v1h-1zM24 10h1v1h-1zM5 11h1v1h-1zM24 11h1v1h-1zM4 12h1v1h-1zM24 12h1v1h-1zM4 13h1v1h-1zM4 14h1v1h-1zM25 14h1v1h-1zM4 15h1v1h-1zM25 15h1v1h-1zM4 16h1v1h-1zM24 17h1v1h-1zM5 18h1v1h-1zM24 18h1v1h-1zM5 19h1v1h-1zM24 19h1v1h-1zM5 20h1v1h-1zM23 20h1v1h-1zM6 21h1v1h-1zM23 21h1v1h-1zM6 22h2v1h-2zM22 22h1v1h-1zM7 23h1v1h-1zM21 23h2v1h-2zM8 24h1v1h-1zM20 24h2v1h-2zM9 25h2v1h-2zM19 25h2v1h-2zM10 26h3v1h-3zM17 26h2v1h-2zM13 27h4v1h-4z"/><path fill="#0000a0" d="M11 4h2v1h-2zM17 4h2v1h-2zM10 5h1v1h-1zM19 5h1v1h-1zM8 6h1v1h-1zM20 6h1v1h-1zM21 7h1v1h-1zM7 8h1v1h-1zM22 8h1v1h-1zM6 9h1v1h-1zM23 10h1v1h-1zM5 12h1v1h-1zM5 13h1v1h-1zM24 13h1v1h-1zM5 14h1v1h-1zM24 14h1v1h-1zM5 15h1v1h-1zM24 15h1v1h-1zM5 16h1v1h-1zM24 16h1v1h-1zM5 17h1v1h-1zM23 19h1v1h-1zM6 20h1v1h-1zM7 21h1v1h-1zM22 21h1v1h-1zM8 23h1v1h-1zM9 24h1v1h-1zM19 24h1v1h-1zM11 25h1v1h-1zM18 25h1v1h-1zM13 26h4v1h-4z"/><path fill="#0000a8" d="M13 4h4v1h-4zM18 5h1v1h-1zM9 6h1v1h-1zM8 7h1v1h-1zM22 9h1v1h-1zM6 10h1v1h-1zM23 11h1v1h-1zM6 18h1v1h-1zM23 18h1v1h-1zM6 19h1v1h-1zM22 20h1v1h-1zM8 22h1v1h-1zM21 22h1v1h-1zM9 23h1v1h-1zM20 23h1v1h-1zM10 24h1v1h-1zM12 25h2v1h-2zM16 25h2v1h-2z"/><path fill="#0000b0" d="M11 5h1v1h-1zM17 5h1v1h-1zM19 6h1v1h-1zM20 7h1v1h-1zM21 8h1v1h-1zM7 9h1v1h-1zM6 11h1v1h-1zM23 12h1v1h-1zM23 13h1v1h-1zM23 16h1v1h-1zM6 17h1v1h-1zM23 17h1v1h-1zM7 20h1v1h-1zM21 21h1v1h-1zM19 23h1v1h-1zM11 24h1v1h-1zM18 24h1v1h-1zM14 25h2v1h-2z"/><path fill="#0000b8" d="M12 5h1v1h-1zM16 5h1v1h-1zM10 6h1v1h-1zM9 7h1v1h-1zM8 8h1v1h-1zM22 10h1v1h-1zM6 12h1v1h-1zM6 13h1v1h-1zM23 14h1v1h-1zM23 15h1v1h-1zM6 16h1v1h-1zM7 19h1v1h-1zM22 19h1v1h-1zM8 21h1v1h-1zM9 22h1v1h-1zM20 22h1v1h-1zM10 23h1v1h-1zM12 24h1v1h-1zM17 24h1v1h-1z"/><path fill="#0000c0" d="M13 5h3v1h-3zM18 6h1v1h-1zM21 9h1v1h-1zM7 10h1v1h-1zM22 11h1v1h-1zM6 14h1v1h-1zM6 15h1v1h-1zM22 18h1v1h-1zM21 20h1v1h-1zM18 23h1v1h-1zM13 24h1v1h-1zM16 24h1v1h-1z"/><path fill="#0000c8" d="M11 6h1v1h-1zM19 7h1v1h-1zM20 8h1v1h-1zM8 9h1v1h-1zM7 11h1v1h-1zM7 18h1v1h-1zM8 20h1v1h-1zM20 21h1v1h-1zM19 22h1v1h-1zM11 23h1v1h-1zM14 24h2v1h-2z"/><path fill="#0000d0" d="M17 6h1v1h-1zM10 7h1v1h-1zM9 8h1v1h-1zM22 12h1v1h-1zM22 17h1v1h-1zM9 21h1v1h-1zM10 22h1v1h-1z"/><path fill="#0000d8" d="M12 6h1v1h-1zM21 10h1v1h-1zM7 12h1v1h-1zM22 13h1v1h-1zM22 16h1v1h-1zM7 17h1v1h-1zM21 19h1v1h-1zM12 23h1v1h-1zM17 23h1v1h-1z"/><path fill="#0000e0" d="M13 6h1v1h-1zM16 6h1v1h-1zM18 7h1v1h-1zM8 10h1v1h-1zM22 14h1v1h-1zM22 15h1v1h-1zM8 19h1v1h-1zM16 23h1v1h-1z"/><path fill="#0000e8" d="M14 6h2v1h-2zM11 7h1v1h-1zM19 8h1v1h-1zM20 9h1v1h-1zM7 13h1v1h-1zM7 16h1v1h-1zM20 20h1v1h-1zM19 21h1v1h-1zM18 22h1v1h-1zM13 23h1v1h-1zM15 23h1v1h-1z"/><path fill="#0000f0" d="M9 9h1v1h-1zM21 11h1v1h-1zM7 14h1v1h-1zM7 15h1v1h-1zM21 18h1v1h-1zM9 20h1v1h-1zM11 22h1v1h-1zM14 23h1v1h-1z"/><path fill="#0000f8" d="M17 7h1v1h-1zM10 8h1v1h-1zM10 21h1v1h-1z"/><path fill="#0001ff" d="M12 7h1v1h-1zM8 11h1v1h-1zM21 17h1v1h-1zM8 18h1v1h-1zM17 22h1v1h-1z"/><path fill="#0009ff" d="M20 10h1v1h-1zM21 12h1v1h-1zM20 19h1v1h-1zM12 22h1v1h-1z"/><path fill="#0011ff" d="M16 7h1v1h-1zM18 8h1v1h-1zM18 21h1v1h-1z"/><path fill="#0019ff" d="M13 7h1v1h-1zM19 9h1v1h-1zM9 10h1v1h-1zM8 12h1v1h-1zM21 13h1v1h-1zM21 16h1v1h-1zM8 17h1v1h-1zM9 19h1v1h-1zM19 20h1v1h-1zM16 22h1v1h-1z"/><path fill="#0021ff" d="M14 7h2v1h-2zM11 8h1v1h-1zM11 21h1v1h-1zM13 22h1v1h-1z"/><path fill="#0029ff" d="M10 9h1v1h-1zM21 14h1v1h-1zM21 15h1v1h-1zM10 20h1v1h-1zM14 22h2v1h-2z"/><path fill="#0031ff" d="M20 11h1v1h-1zM8 13h1v1h-1zM8 16h1v1h-1zM20 18h1v1h-1z"/><path fill="#0039ff" d="M17 8h1v1h-1z"/><path fill="#0041ff" d="M8 14h1v1h-1zM8 15h1v1h-1zM17 21h1v1h-1z"/><path fill="#0049ff" d="M12 8h1v1h-1zM9 11h1v1h-1zM9 18h1v1h-1zM19 19h1v1h-1zM12 21h1v1h-1z"/><path fill="#0051ff" d="M18 9h1v1h-1zM19 10h1v1h-1zM18 20h1v1h-1z"/><path fill="#0059ff" d="M16 8h1v1h-1zM20 12h1v1h-1zM20 17h1v1h-1z"/><path fill="#0061ff" d="M10 19h1v1h-1zM16 21h1v1h-1z"/><path fill="#0069ff" d="M13 8h1v1h-1zM11 9h1v1h-1zM10 10h1v1h-1zM11 20h1v1h-1zM13 21h1v1h-1z"/><path fill="#0071ff" d="M15 8h1v1h-1zM9 17h1v1h-1z"/><path fill="#0079ff" d="M14 8h1v1h-1zM9 12h1v1h-1zM20 16h1v1h-1zM14 21h2v1h-2z"/><path fill="#0082ff" d="M20 13h1v1h-1z"/><path fill="#008aff" d="M17 9h1v1h-1zM19 11h1v1h-1zM19 18h1v1h-1z"/><path fill="#0092ff" d="M20 14h1v1h-1zM20 15h1v1h-1zM17 20h1v1h-1z"/><path fill="#009aff" d="M9 16h1v1h-1zM18 19h1v1h-1z"/><path fill="#00a2ff" d="M12 9h1v1h-1zM18 10h1v1h-1zM9 13h1v1h-1zM12 20h1v1h-1z"/><path fill="#00aaff" d="M10 11h1v1h-1zM10 18h1v1h-1z"/><path fill="#00baff" d="M11 10h1v1h-1zM9 14h1v1h-1zM9 15h1v1h-1zM11 19h1v1h-1z"/><path fill="#00c2ff" d="M16 9h1v1h-1zM19 17h1v1h-1zM16 20h1v1h-1z"/><path fill="#00caff" d="M19 12h1v1h-1z"/><path fill="#00d2ff" d="M13 9h1v1h-1zM13 20h1v1h-1z"/><path fill="#00e2ff" d="M14 9h2v1h-2zM15 20h1v1h-1z"/><path fill="#00eaff" d="M10 17h1v1h-1zM14 20h1v1h-1z"/><path fill="#00f2ff" d="M17 10h1v1h-1zM10 12h1v1h-1zM18 18h1v1h-1zM17 19h1v1h-1z"/><path fill="#00faff" d="M18 11h1v1h-1zM19 16h1v1h-1z"/><path fill="#03fffc" d="M19 13h1v1h-1z"/><path fill="#0bfff4" d="M12 19h1v1h-1z"/><path fill="#13ffec" d="M12 10h1v1h-1zM11 18h1v1h-1z"/><path fill="#1bffe4" d="M11 11h1v1h-1zM19 15h1v1h-1z"/><path fill="#23ffdc" d="M19 14h1v1h-1z"/><path fill="#2bffd4" d="M10 16h1v1h-1z"/><path fill="#33ffcc" d="M10 13h1v1h-1z"/><path fill="#3bffc4" d="M16 10h1v1h-1zM16 19h1v1h-1z"/><path fill="#4bffb4" d="M18 17h1v1h-1zM13 19h1v1h-1z"/><path fill="#53ffac" d="M13 10h1v1h-1zM18 12h1v1h-1zM10 14h1v1h-1zM10 15h1v1h-1z"/><path fill="#5bffa4" d="M17 18h1v1h-1z"/><path fill="#63ff9c" d="M15 19h1v1h-1z"/><path fill="#6bff94" d="M15 10h1v1h-1zM17 11h1v1h-1zM14 19h1v1h-1z"/><path fill="#73ff8c" d="M14 10h1v1h-1zM11 17h1v1h-1z"/><path fill="#84ff7b" d="M11 12h1v1h-1zM12 18h1v1h-1z"/><path fill="#8cff73" d="M12 11h1v1h-1z"/><path fill="#94ff6b" d="M18 16h1v1h-1z"/><path fill="#9cff63" d="M18 13h1v1h-1z"/><path fill="#bcff43" d="M16 18h1v1h-1z"/><path fill="#c4ff3b" d="M16 11h1v1h-1zM18 15h1v1h-1z"/><path fill="#ccff33" d="M18 14h1v1h-1zM11 16h1v1h-1zM17 17h1v1h-1z"/><path fill="#d4ff2b" d="M11 13h1v1h-1zM13 18h1v1h-1z"/><path fill="#dcff23" d="M17 12h1v1h-1z"/><path fill="#e4ff1b" d="M13 11h1v1h-1z"/><path fill="#f4ff0b" d="M15 18h1v1h-1z"/><path fill="#fcff03" d="M12 17h1v1h-1zM14 18h1v1h-1z"/><path fill="#fffa00" d="M15 11h1v1h-1zM11 14h1v1h-1zM11 15h1v1h-1z"/><path fill="#fff200" d="M14 11h1v1h-1zM12 12h1v1h-1z"/><path fill="#ffca00" d="M17 16h1v1h-1z"/><path fill="#ffc200" d="M17 13h1v1h-1z"/><path fill="#ffba00" d="M16 17h1v1h-1z"/><path fill="#ffaa00" d="M16 12h1v1h-1z"/><path fill="#ff9a00" d="M12 16h1v1h-1zM13 17h1v1h-1z"/><path fill="#ff8a00" d="M13 12h1v1h-1zM12 13h1v1h-1zM17 15h1v1h-1z"/><path fill="#ff8200" d="M17 14h1v1h-1z"/><path fill="#ff7100" d="M15 17h1v1h-1z"/><path fill="#ff6900" d="M14 17h1v1h-1z"/><path fill="#ff6100" d="M15 12h1v1h-1z"/><path fill="#ff5900" d="M14 12h1v1h-1z"/><path fill="#ff5100" d="M12 15h1v1h-1z"/><path fill="#ff4900" d="M12 14h1v1h-1zM16 16h1v1h-1z"/><path fill="#ff3100" d="M16 13h1v1h-1z"/><path fill="#ff2100" d="M13 16h1v1h-1z"/><path fill="#ff1100" d="M13 13h1v1h-1z"/><path fill="#f80000" d="M16 15h1v1h-1z"/><path fill="#f00000" d="M15 16h1v1h-1z"/><path fill="#e80000" d="M16 14h1v1h-1z"/><path fill="#e00000" d="M15 13h1v1h-1zM14 16h1v1h-1z"/><path fill="#d00000" d="M14 13h1v1h-1zM13 15h1v1h-1z"/><path fill="#c00000" d="M13 14h1v1h-1z"/><path fill="#980000" d="M15 15h1v1h-1z"/><path fill="#900000" d="M15 14h1v1h-1z"/><path fill="#880000" d="M14 15h1v1h-1z"/><path fill="#800000" d="M14 14h1v1h-1z"/></g>
<rect x="511.5" y="648.5" width="249" height="248" fill="none" stroke="#0a0a30" stroke-width="1"/>
<g transform="translate(891 648) scale(8.33333 8.30000)" shape-rendering="crispEdges"><path fill="#000090" d="M0 0h30v1h-30zM0 1h30v1h-30zM0 2h30v1h-30zM0 3h11v1h-11zM19 3h11v1h-11zM0 4h9v1h-9zM20 4h10v1h-10zM0 5h8v1h-8zM21 5h9v1h-9zM0 6h7v1h-7zM22 6h8v1h-8zM0 7h6v1h-6zM23 7h7v1h-7zM0 8h6v1h-6zM24 8h6v1h-6zM0 9h5v1h-5zM24 9h6v1h-6zM0 10h5v1h-5zM24 10h6v1h-6zM0 11h5v1h-5zM25 11h5v1h-5zM0 12h4v1h-4zM25 12h5v1h-5zM0 13h4v1h-4zM25 13h5v1h-5zM0 14h4v1h-4zM25 14h5v1h-5zM0 15h4v1h-4zM25 15h5v1h-5zM0 16h4v1h-4zM25 16h5v1h-5zM0 17h5v1h-5zM25 17h5v1h-5zM0 18h5v1h-5zM24 18h6v1h-6zM0 19h5v1h-5zM24 19h6v1h-6zM0 20h6v1h-6zM24 20h6v1h-6zM0 21h6v1h-6zM23 21h7v1h-7zM0 22h7v1h-7zM22 22h8v1h-8zM0 23h8v1h-8zM21 23h9v1h-9zM0 24h9v1h-9zM20 24h10v1h-10zM0 25h11v1h-11zM18 25h12v1h-12zM0 26h30v1h-30zM0 27h30v1h-30zM0 28h30v1h-30zM0 29h30v1h-30z"/><path fill="#000098" d="M11 3h8v1h-8zM9 4h2v1h-2zM19 4h1v1h-1zM8 5h1v1h-1zM20 5h1v1h-1zM7 6h1v1h-1zM21 6h1v1h-1zM6 7h1v1h-1zM22 7h1v1h-1zM6 8h1v1h-1zM23 8h1v1h-1zM5 9h1v1h-1zM23 9h1v1h-1zM5 10h1v1h-1zM24 11h1v1h-1zM4 12h1v1h-1zM24 12h1v1h-1zM4 13h1v1h-1zM24 13h1v1h-1zM4 14h1v1h-1zM24 14h1v1h-1zM4 15h1v1h-1zM24 15h1v1h-1zM4 16h1v1h-1zM24 16h1v1h-1zM24 17h1v1h-1zM5 18h1v1h-1zM5 19h1v1h-1zM23 19h1v1h-1zM6 20h1v1h-1zM23 20h1v1h-1zM6 21h1v1h-1zM22 21h1v1h-1zM7 22h1v1h-1zM21 22h1v1h-1zM8 23h1v1h-1zM20 23h1v1h-1zM9 24h2v1h-2zM18 24h2v1h-2zM11 25h7v1h-7z"/><path fill="#0000a0" d="M11 4h1v1h-1zM17 4h2v1h-2zM9 5h1v1h-1zM19 5h1v1h-1zM8 6h1v1h-1zM20 6h1v1h-1zM7 7h1v1h-1zM21 7h1v1h-1zM22 8h1v1h-1zM6 9h1v1h-1zM23 10h1v1h-1zM5 11h1v1h-1zM23 11h1v1h-1zM5 12h1v1h-1zM5 16h1v1h-1zM5 17h1v1h-1zM23 17h1v1h-1zM23 18h1v1h-1zM6 19h1v1h-1zM22 20h1v1h-1zM7 21h1v1h-1zM21 21h1v1h-1zM8 22h1v1h-1zM20 22h1v1h-1zM9 23h1v1h-1zM19 23h1v1h-1zM11 24h2v1h-2zM16 24h2v1h-2z"/><path fill="#0000a8" d="M12 4h5v1h-5zM10 5h1v1h-1zM18 5h1v1h-1zM7 8h1v1h-1zM22 9h1v1h-1zM6 10h1v1h-1zM23 12h1v1h-1zM5 13h1v1h-1zM23 13h1v1h-1zM5 14h1v1h-1zM5 15h1v1h-1zM23 15h1v1h-1zM23 16h1v1h-1zM6 18h1v1h-1zM22 19h1v1h-1zM7 20h1v1h-1zM8 21h1v1h-1zM9 22h1v1h-1zM10 23h1v1h-1zM18 23h1v1h-1zM13 24h3v1h-3z"/><path fill="#0000b0" d="M11 5h1v1h-1zM9 6h1v1h-1zM19 6h1v1h-1zM8 7h1v1h-1zM20 7h1v1h-1zM21 8h1v1h-1zM22 10h1v1h-1zM6 11h1v1h-1zM23 14h1v1h-1zM6 17h1v1h-1zM22 18h1v1h-1zM21 20h1v1h-1zM20 21h1v1h-1zM19 22h1v1h-1zM11 23h1v1h-1zM17 23h1v1h-1z"/><path fill="#0000b8" d="M12 5h1v1h-1zM17 5h1v1h-1zM10 6h1v1h-1zM7 9h1v1h-1zM22 11h1v1h-1zM6 12h1v1h-1zM6 16h1v1h-1zM7 19h1v1h-1zM10 22h1v1h-1zM12 23h2v1h-2zM16 23h1v1h-1z"/><path fill="#0000c0" d="M13 5h1v1h-1zM15 5h2v1h-2zM18 6h1v1h-1zM9 7h1v1h-1zM8 8h1v1h-1zM21 9h1v1h-1zM6 13h1v1h-1zM6 14h1v1h-1zM6 15h1v1h-1zM22 17h1v1h-1zM21 19h1v1h-1zM8 20h1v1h-1zM9 21h1v1h-1zM18 22h1v1h-1zM14 23h2v1h-2z"/><path fill="#0000c8" d="M14 5h1v1h-1zM19 7h1v1h-1zM20 8h1v1h-1zM7 10h1v1h-1zM22 12h1v1h-1zM22 16h1v1h-1zM7 18h1v1h-1zM20 20h1v1h-1zM19 21h1v1h-1zM11 22h1v1h-1z"/><path fill="#0000d0" d="M11 6h1v1h-1zM21 10h1v1h-1zM22 13h1v1h-1zM22 14h1v1h-1zM22 15h1v1h-1zM21 18h1v1h-1zM17 22h1v1h-1z"/><path fill="#0000d8" d="M17 6h1v1h-1zM8 9h1v1h-1zM7 11h1v1h-1zM7 17h1v1h-1zM8 19h1v1h-1zM10 21h1v1h-1zM12 22h1v1h-1z"/><path fill="#0000e0" d="M12 6h1v1h-1zM16 6h1v1h-1zM10 7h1v1h-1zM9 8h1v1h-1zM9 20h1v1h-1zM18 21h1v1h-1zM13 22h1v1h-1zM16 22h1v1h-1z"/><path fill="#0000e8" d="M13 6h1v1h-1zM18 7h1v1h-1zM20 9h1v1h-1zM21 11h1v1h-1zM7 12h1v1h-1zM7 16h1v1h-1zM21 17h1v1h-1zM20 19h1v1h-1zM19 20h1v1h-1zM14 22h2v1h-2z"/><path fill="#0000f0" d="M14 6h2v1h-2zM19 8h1v1h-1z"/><path fill="#0000f8" d="M11 7h1v1h-1zM8 10h1v1h-1zM21 12h1v1h-1zM7 13h1v1h-1zM7 14h1v1h-1zM7 15h1v1h-1zM8 18h1v1h-1zM11 21h1v1h-1z"/><path fill="#0001ff" d="M21 16h1v1h-1zM17 21h1v1h-1z"/><path fill="#0009ff" d="M17 7h1v1h-1zM10 8h1v1h-1zM9 9h1v1h-1zM20 10h1v1h-1zM21 13h1v1h-1zM21 15h1v1h-1zM20 18h1v1h-1zM9 19h1v1h-1zM10 20h1v1h-1z"/><path fill="#0011ff" d="M21 14h1v1h-1zM12 21h1v1h-1z"/><path fill="#0019ff" d="M12 7h1v1h-1zM18 8h1v1h-1zM8 11h1v1h-1zM8 17h1v1h-1zM19 19h1v1h-1zM18 20h1v1h-1zM16 21h1v1h-1z"/><path fill="#0021ff" d="M16 7h1v1h-1zM19 9h1v1h-1zM13 21h1v1h-1z"/><path fill="#0029ff" d="M13 7h1v1h-1zM14 21h2v1h-2z"/><path fill="#0031ff" d="M14 7h2v1h-2zM20 11h1v1h-1zM8 12h1v1h-1zM8 16h1v1h-1zM20 17h1v1h-1zM11 20h1v1h-1z"/><path fill="#0039ff" d="M11 8h1v1h-1zM9 10h1v1h-1zM9 18h1v1h-1z"/><path fill="#0049ff" d="M17 8h1v1h-1zM10 9h1v1h-1zM8 13h1v1h-1zM8 15h1v1h-1zM10 19h1v1h-1zM17 20h1v1h-1z"/><path fill="#0051ff" d="M19 10h1v1h-1zM20 12h1v1h-1zM8 14h1v1h-1zM20 16h1v1h-1z"/><path fill="#0059ff" d="M19 18h1v1h-1z"/><path fill="#0061ff" d="M18 9h1v1h-1zM18 19h1v1h-1zM12 20h1v1h-1z"/><path fill="#0069ff" d="M12 8h1v1h-1zM9 11h1v1h-1zM20 13h1v1h-1zM20 15h1v1h-1z"/><path fill="#0071ff" d="M16 8h1v1h-1zM9 17h1v1h-1zM16 20h1v1h-1z"/><path fill="#0079ff" d="M20 14h1v1h-1z"/><path fill="#0082ff" d="M13 20h1v1h-1z"/><path fill="#008aff" d="M13 8h1v1h-1zM11 9h1v1h-1zM11 19h1v1h-1zM15 20h1v1h-1z"/><path fill="#0092ff" d="M15 8h1v1h-1zM10 10h1v1h-1zM19 11h1v1h-1zM19 17h1v1h-1zM10 18h1v1h-1zM14 20h1v1h-1z"/><path fill="#009aff" d="M14 8h1v1h-1zM9 12h1v1h-1z"/><path fill="#00a2ff" d="M9 16h1v1h-1zM17 19h1v1h-1z"/><path fill="#00aaff" d="M17 9h1v1h-1z"/><path fill="#00b2ff" d="M18 10h1v1h-1zM18 18h1v1h-1z"/><path fill="#00c2ff" d="M9 13h1v1h-1zM9 15h1v1h-1z"/><path fill="#00caff" d="M12 9h1v1h-1zM19 12h1v1h-1zM19 16h1v1h-1zM12 19h1v1h-1z"/><path fill="#00d2ff" d="M9 14h1v1h-1z"/><path fill="#00daff" d="M10 11h1v1h-1z"/><path fill="#00e2ff" d="M16 9h1v1h-1zM10 17h1v1h-1zM16 19h1v1h-1z"/><path fill="#00f2ff" d="M11 10h1v1h-1zM19 13h1v1h-1zM19 15h1v1h-1zM11 18h1v1h-1z"/><path fill="#00faff" d="M13 19h1v1h-1z"/><path fill="#03fffc" d="M13 9h1v1h-1zM19 14h1v1h-1z"/><path fill="#0bfff4" d="M15 9h1v1h-1zM18 11h1v1h-1zM18 17h1v1h-1zM15 19h1v1h-1z"/><path fill="#13ffec" d="M14 9h1v1h-1zM17 10h1v1h-1zM17 18h1v1h-1zM14 19h1v1h-1z"/><path fill="#23ffdc" d="M10 12h1v1h-1z"/><path fill="#2bffd4" d="M10 16h1v1h-1z"/><path fill="#4bffb4" d="M12 10h1v1h-1zM12 18h1v1h-1z"/><path fill="#5bffa4" d="M11 11h1v1h-1zM18 12h1v1h-1zM10 13h1v1h-1zM10 15h1v1h-1zM11 17h1v1h-1z"/><path fill="#63ff9c" d="M18 16h1v1h-1z"/><path fill="#6bff94" d="M16 10h1v1h-1zM10 14h1v1h-1zM16 18h1v1h-1z"/><path fill="#84ff7b" d="M17 11h1v1h-1z"/><path fill="#8cff73" d="M13 10h1v1h-1zM17 17h1v1h-1zM13 18h1v1h-1z"/><path fill="#94ff6b" d="M18 13h1v1h-1z"/><path fill="#9cff63" d="M15 10h1v1h-1zM18 15h1v1h-1z"/><path fill="#a4ff5b" d="M15 18h1v1h-1z"/><path fill="#acff53" d="M14 10h1v1h-1zM18 14h1v1h-1zM14 18h1v1h-1z"/><path fill="#bcff43" d="M11 12h1v1h-1z"/><path fill="#c4ff3b" d="M11 16h1v1h-1z"/><path fill="#ccff33" d="M12 11h1v1h-1z"/><path fill="#d4ff2b" d="M12 17h1v1h-1z"/><path fill="#f4ff0b" d="M16 11h1v1h-1zM17 12h1v1h-1z"/><path fill="#fcff03" d="M17 16h1v1h-1zM16 17h1v1h-1z"/><path fill="#fffa00" d="M11 13h1v1h-1zM11 15h1v1h-1z"/><path fill="#ffda00" d="M13 11h1v1h-1zM11 14h1v1h-1z"/><path fill="#ffd200" d="M13 17h1v1h-1z"/><path fill="#ffc200" d="M15 11h1v1h-1z"/><path fill="#ffba00" d="M12 12h1v1h-1zM17 13h1v1h-1zM15 17h1v1h-1z"/><path fill="#ffb200" d="M14 11h1v1h-1zM17 15h1v1h-1zM12 16h1v1h-1z"/><path fill="#ffaa00" d="M14 17h1v1h-1z"/><path fill="#ff9a00" d="M17 14h1v1h-1z"/><path fill="#ff8a00" d="M16 12h1v1h-1z"/><path fill="#ff7900" d="M16 16h1v1h-1z"/><path fill="#ff5900" d="M12 13h1v1h-1z"/><path fill="#ff5100" d="M13 12h1v1h-1zM12 15h1v1h-1z"/><path fill="#ff4100" d="M13 16h1v1h-1z"/><path fill="#ff3900" d="M12 14h1v1h-1z"/><path fill="#ff3100" d="M15 12h1v1h-1z"/><path fill="#ff2900" d="M16 13h1v1h-1zM15 16h1v1h-1z"/><path fill="#ff2100" d="M14 12h1v1h-1zM16 15h1v1h-1z"/><path fill="#ff1100" d="M14 16h1v1h-1z"/><path fill="#f80000" d="M16 14h1v1h-1z"/><path fill="#e80000" d="M13 13h1v1h-1z"/><path fill="#d80000" d="M13 15h1v1h-1z"/><path fill="#c80000" d="M15 13h1v1h-1z"/><path fill="#b80000" d="M13 14h1v1h-1zM15 15h1v1h-1z"/><path fill="#b00000" d="M14 13h1v1h-1z"/><path fill="#a80000" d="M14 15h1v1h-1z"/><path fill="#980000" d="M15 14h1v1h-1z"/><path fill="#800000" d="M14 14h1v1h-1z"/></g>
<rect x="891.5" y="648.5" width="249" height="248" fill="none" stroke="#0a0a30" stroke-width="1"/>
<text x="221.30" y="27.90" font-size="40" fill="#000">P 1</text>
<text x="601.50" y="27.75" font-size="40" fill="#000">P 2</text>
<text x="979.10" y="27.90" font-size="40" fill="#000">P 3</text>
<text transform="translate(27.70 255.38) rotate(-90) scale(0.9815 1)" font-size="40" fill="#000">Free space</text>
<text transform="translate(27.85 548.00) rotate(-90) scale(0.9634 1)" font-size="40" fill="#000">AR-HCF1</text>
<text transform="translate(28.60 842.90) rotate(-90) scale(0.9703 1)" font-size="40" fill="#000">AR-HCF2</text>
<text transform="translate(81.70 194.80) rotate(-90) scale(1.0039 1)" font-size="36" fill="#000">Y (μm)</text>
<text transform="translate(81.65 501.20) rotate(-90) scale(1.0019 1)" font-size="36" fill="#000">Y (μm)</text>
<text transform="translate(81.65 808.80) rotate(-90) scale(1.0019 1)" font-size="36" fill="#000">Y (μm)</text>
<text transform="translate(210.58 961.45) scale(0.9212 1)" font-size="36" fill="#000">X (μm)</text>
<text transform="translate(595.08 961.45) scale(0.9163 1)" font-size="36" fill="#000">X (μm)</text>
<text transform="translate(969.79 961.40) scale(0.9115 1)" font-size="36" fill="#000">X (μm)</text>
<text x="91.70" y="57.50" font-size="36" fill="#000">66</text>
<text x="103.80" y="170.60" font-size="36" fill="#000">0</text>
<text x="78.85" y="288.40" font-size="36" fill="#000">-66</text>
<text x="469.75" y="57.25" font-size="36" fill="#000">66</text>
<text x="481.50" y="171.50" font-size="36" fill="#000">0</text>
<text x="457.30" y="288.75" font-size="36" fill="#000">-66</text>
<text x="850.65" y="57.25" font-size="36" fill="#000">66</text>
<text x="862.00" y="171.50" font-size="36" fill="#000">0</text>
<text x="837.85" y="288.75" font-size="36" fill="#000">-66</text>
<text x="91.30" y="363.95" font-size="36" fill="#000">66</text>
<text x="103.65" y="478.30" font-size="36" fill="#000">0</text>
<text x="78.55" y="594.40" font-size="36" fill="#000">-66</text>
<text x="469.75" y="396.80" font-size="36" fill="#000">66</text>
<text x="481.75" y="478.35" font-size="36" fill="#000">0</text>
<text x="457.15" y="594.50" font-size="36" fill="#000">-66</text>
<text x="850.70" y="396.80" font-size="36" fill="#000">66</text>
<text x="862.40" y="478.35" font-size="36" fill="#000">0</text>
<text x="837.85" y="594.50" font-size="36" fill="#000">-66</text>
<text x="91.30" y="670.85" font-size="36" fill="#000">66</text>
<text x="103.65" y="785.60" font-size="36" fill="#000">0</text>
<text x="78.55" y="902.65" font-size="36" fill="#000">-66</text>
<text x="469.75" y="667.95" font-size="36" fill="#000">66</text>
<text x="481.75" y="781.85" font-size="36" fill="#000">0</text>
<text x="457.15" y="900.00" font-size="36" fill="#000">-66</text>
<text x="850.70" y="667.95" font-size="36" fill="#000">66</text>
<text x="862.40" y="781.85" font-size="36" fill="#000">0</text>
<text x="837.85" y="900.00" font-size="36" fill="#000">-66</text>
<text x="126.55" y="317.35" font-size="36" fill="#000">-66</text>
<text x="245.60" y="317.35" font-size="36" fill="#000">0</text>
<text x="343.95" y="317.35" font-size="36" fill="#000">66</text>
<text x="511.50" y="317.35" font-size="36" fill="#000">-66</text>
<text x="630.35" y="317.35" font-size="36" fill="#000">0</text>
<text x="728.75" y="317.35" font-size="36" fill="#000">66</text>
<text x="885.85" y="317.35" font-size="36" fill="#000">-66</text>
<text x="1005.10" y="317.35" font-size="36" fill="#000">0</text>
<text x="1103.05" y="317.35" font-size="36" fill="#000">66</text>
<text x="126.55" y="623.65" font-size="36" fill="#000">-66</text>
<text x="245.60" y="623.65" font-size="36" fill="#000">0</text>
<text x="343.95" y="623.65" font-size="36" fill="#000">66</text>
<text x="511.50" y="623.65" font-size="36" fill="#000">-66</text>
<text x="630.35" y="623.65" font-size="36" fill="#000">0</text>
<text x="728.75" y="623.65" font-size="36" fill="#000">66</text>
<text x="885.85" y="623.65" font-size="36" fill="#000">-66</text>
<text x="1005.10" y="623.65" font-size="36" fill="#000">0</text>
<text x="1103.05" y="623.65" font-size="36" fill="#000">66</text>
<text x="126.55" y="929.20" font-size="36" fill="#000">-66</text>
<text x="245.60" y="929.20" font-size="36" fill="#000">0</text>
<text x="343.95" y="929.20" font-size="36" fill="#000">66</text>
<text x="511.50" y="929.20" font-size="36" fill="#000">-66</text>
<text x="630.35" y="929.20" font-size="36" fill="#000">0</text>
<text x="728.75" y="929.20" font-size="36" fill="#000">66</text>
<text x="885.85" y="929.20" font-size="36" fill="#000">-66</text>
<text x="1005.10" y="929.20" font-size="36" fill="#000">0</text>
<text x="1103.05" y="929.20" font-size="36" fill="#000">66</text>
<text x="140.20" y="82.00" font-size="56" fill="#fff">a</text>
<text x="519.15" y="82.75" font-size="56" fill="#fff">b</text>
<text x="899.00" y="76.20" font-size="56" fill="#fff">c</text>
<text x="140.10" y="393.30" font-size="56" fill="#fff">d</text>
<text x="519.10" y="383.30" font-size="56" fill="#fff">e</text>
<text x="901.55" y="393.05" font-size="56" fill="#fff">f</text>
<text x="139.70" y="684.35" font-size="56" fill="#fff">g</text>
<text x="519.05" y="693.05" font-size="56" fill="#fff">h</text>
<text x="902.40" y="692.05" font-size="56" fill="#fff">i</text>
<text x="127.85" y="1052.50" font-size="36" fill="#000">0</text>
<text x="610.65" y="1052.55" font-size="36" fill="#000">0.5</text>
<text x="1123.05" y="1052.50" font-size="36" fill="#000">1</text>
<defs><linearGradient id="jg" x1="0" x2="1" y1="0" y2="0"><stop offset="0" stop-color="#000080"/><stop offset="0.015625" stop-color="#00008f"/><stop offset="0.03125" stop-color="#00009f"/><stop offset="0.046875" stop-color="#0000af"/><stop offset="0.0625" stop-color="#0000bf"/><stop offset="0.078125" stop-color="#0000cf"/><stop offset="0.09375" stop-color="#0000df"/><stop offset="0.109375" stop-color="#0000ef"/><stop offset="0.125" stop-color="#0000ff"/><stop offset="0.140625" stop-color="#0010ff"/><stop offset="0.15625" stop-color="#0020ff"/><stop offset="0.171875" stop-color="#0030ff"/><stop offset="0.1875" stop-color="#0040ff"/><stop offset="0.203125" stop-color="#0050ff"/><stop offset="0.21875" stop-color="#0060ff"/><stop offset="0.234375" stop-color="#0070ff"/><stop offset="0.25" stop-color="#0080ff"/><stop offset="0.265625" stop-color="#008fff"/><stop offset="0.28125" stop-color="#009fff"/><stop offset="0.296875" stop-color="#00afff"/><stop offset="0.3125" stop-color="#00bfff"/><stop offset="0.328125" stop-color="#00cfff"/><stop offset="0.34375" stop-color="#00dfff"/><stop offset="0.359375" stop-color="#00efff"/><stop offset="0.375" stop-color="#00ffff"/><stop offset="0.390625" stop-color="#10ffef"/><stop offset="0.40625" stop-color="#20ffdf"/><stop offset="0.421875" stop-color="#30ffcf"/><stop offset="0.4375" stop-color="#40ffbf"/><stop offset="0.453125" stop-color="#50ffaf"/><stop offset="0.46875" stop-color="#60ff9f"/><stop offset="0.484375" stop-color="#70ff8f"/><stop offset="0.5" stop-color="#80ff80"/><stop offset="0.515625" stop-color="#8fff70"/><stop offset="0.53125" stop-color="#9fff60"/><stop offset="0.546875" stop-color="#afff50"/><stop offset="0.5625" stop-color="#bfff40"/><stop offset="0.578125" stop-color="#cfff30"/><stop offset="0.59375" stop-color="#dfff20"/><stop offset="0.609375" stop-color="#efff10"/><stop offset="0.625" stop-color="#ffff00"/><stop offset="0.640625" stop-color="#ffef00"/><stop offset="0.65625" stop-color="#ffdf00"/><stop offset="0.671875" stop-color="#ffcf00"/><stop offset="0.6875" stop-color="#ffbf00"/><stop offset="0.703125" stop-color="#ffaf00"/><stop offset="0.71875" stop-color="#ff9f00"/><stop offset="0.734375" stop-color="#ff8f00"/><stop offset="0.75" stop-color="#ff8000"/><stop offset="0.765625" stop-color="#ff7000"/><stop offset="0.78125" stop-color="#ff6000"/><stop offset="0.796875" stop-color="#ff5000"/><stop offset="0.8125" stop-color="#ff4000"/><stop offset="0.828125" stop-color="#ff3000"/><stop offset="0.84375" stop-color="#ff2000"/><stop offset="0.859375" stop-color="#ff1000"/><stop offset="0.875" stop-color="#ff0000"/><stop offset="0.890625" stop-color="#ef0000"/><stop offset="0.90625" stop-color="#df0000"/><stop offset="0.921875" stop-color="#cf0000"/><stop offset="0.9375" stop-color="#bf0000"/><stop offset="0.953125" stop-color="#af0000"/><stop offset="0.96875" stop-color="#9f0000"/><stop offset="0.984375" stop-color="#8f0000"/><stop offset="1" stop-color="#800000"/></linearGradient></defs>
<rect x="135.5" y="982.5" width="1000.5" height="37" fill="url(#jg)" stroke="#141414" stroke-width="3"/>
<rect x="634.5" y="1014" width="2" height="5" fill="#141414"/>
</svg>
</body></html>
